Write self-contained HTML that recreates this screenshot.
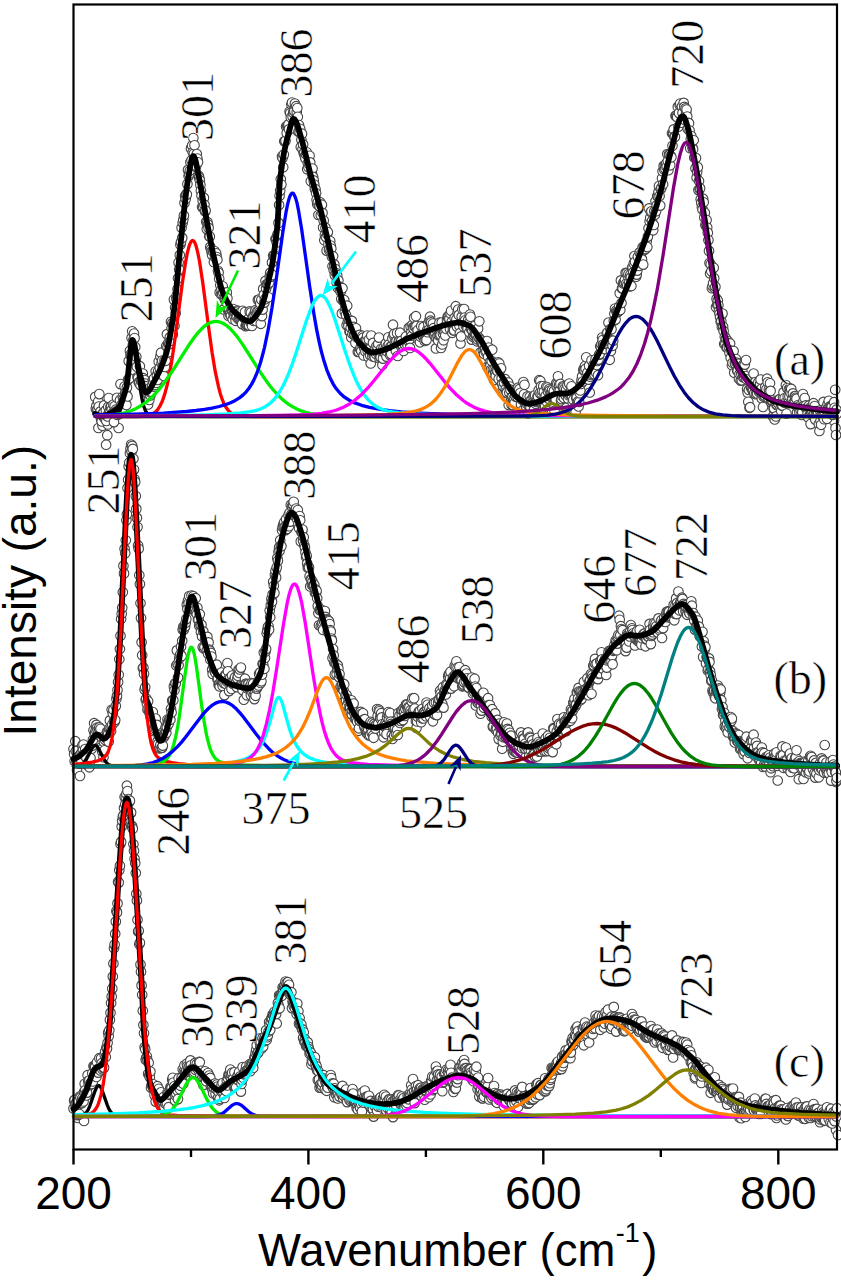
<!DOCTYPE html>
<html><head><meta charset="utf-8"><style>
html,body{margin:0;padding:0;background:#fff;overflow:hidden}
svg{display:block}
.d{fill:none;stroke:none;marker-start:url(#m);marker-mid:url(#m);marker-end:url(#m)}
</style></head><body>
<svg width="841" height="1280" viewBox="0 0 841 1280">
<defs><marker id="m" markerUnits="userSpaceOnUse" markerWidth="14" markerHeight="14" refX="7" refY="7" overflow="visible"><circle cx="7" cy="7" r="4.8" fill="#fff" stroke="#454545" stroke-width="1.1"/></marker></defs>
<rect width="841" height="1280" fill="#fff"/>
<polyline class="d" points="98.4,428.0 102.5,425.7 107.9,424.5 107.3,435.2 106.1,444.7 118.6,428.0 834.0,421.0 835.5,428.0 836.0,435.0 95.2,396.9 95.8,408.6 96.4,405.8 97.0,410.4 97.6,409.2 98.2,401.6 98.8,406.6 99.3,394.1 99.9,415.0 100.5,411.4 101.1,419.5 101.7,421.4 102.3,414.2 102.9,416.2 103.5,412.5 104.0,405.4 104.6,417.8 105.2,419.1 105.8,410.4 106.4,420.9 107.0,415.7 107.6,416.5 108.2,406.7 108.7,398.1 109.3,412.5 109.9,410.7 110.5,406.7 111.1,406.5 111.7,410.1 112.3,413.5 112.8,413.2 113.4,404.6 114.0,422.1 114.6,406.3 115.2,411.7 115.8,409.7 116.4,411.4 117.0,397.8 117.5,414.9 118.1,410.9 118.7,411.3 119.3,414.0 119.9,400.2 120.5,384.1 121.1,405.2 121.7,410.5 122.2,408.5 122.8,396.8 123.4,398.9 124.0,400.8 124.6,386.6 125.2,393.1 125.8,392.3 126.4,404.9 126.9,387.4 127.5,396.4 128.1,379.6 128.7,361.1 129.3,378.4 129.9,350.7 130.5,354.5 131.1,356.2 131.6,337.9 132.2,331.3 132.8,345.3 133.4,339.7 134.0,333.5 134.6,338.0 135.2,347.0 135.8,360.5 136.3,356.8 136.9,366.7 137.5,377.0 138.1,378.1 138.7,382.2 139.3,383.1 139.9,366.2 140.5,385.1 141.0,380.6 141.6,379.2 142.2,374.8 142.8,373.5 143.4,378.2 144.0,386.4 144.6,380.1 145.2,383.5 145.7,386.2 146.3,395.9 146.9,391.3 147.5,393.7 148.1,404.4 148.7,394.5 149.3,400.0 149.8,388.1 150.4,395.4 151.0,392.7 151.6,391.8 152.2,386.0 152.8,380.1 153.4,382.1 154.0,378.6 154.5,386.6 155.1,385.0 155.7,371.3 156.3,382.9 156.9,375.4 157.5,380.0 158.1,371.3 158.7,361.6 159.2,374.2 159.8,368.1 160.4,356.4 161.0,352.7 161.6,363.0 162.2,360.5 162.8,366.7 163.4,372.5 163.9,375.9 164.5,360.6 165.1,367.0 165.7,360.8 166.3,346.0 166.9,334.2 167.5,347.3 168.1,343.3 168.6,352.2 169.2,344.0 169.8,337.4 170.4,341.0 171.0,321.8 171.6,328.1 172.2,323.4 172.8,334.4 173.3,324.7 173.9,299.6 174.5,325.7 175.1,307.5 175.7,313.2 176.3,298.4 176.9,295.1 177.5,289.3 178.0,278.2 178.6,262.6 179.2,269.5 179.8,255.0 180.4,244.7 181.0,242.1 181.6,227.8 182.2,237.9 182.7,222.8 183.3,219.7 183.9,215.5 184.5,202.9 185.1,196.0 185.7,199.0 186.3,194.0 186.8,194.6 187.4,184.1 188.0,169.9 188.6,176.1 189.2,173.9 189.8,170.8 190.4,162.3 191.0,148.4 191.5,160.2 192.1,145.5 192.7,152.3 193.3,138.1 193.9,153.6 194.5,145.3 195.1,159.3 195.7,166.7 196.2,165.9 196.8,154.0 197.4,158.6 198.0,162.3 198.6,175.7 199.2,177.5 199.8,180.2 200.4,184.9 200.9,190.8 201.5,195.7 202.1,207.1 202.7,200.9 203.3,207.1 203.9,197.9 204.5,204.7 205.1,211.4 205.6,210.6 206.2,221.7 206.8,229.1 207.4,222.0 208.0,224.5 208.6,227.9 209.2,236.3 209.8,236.5 210.3,246.9 210.9,249.2 211.5,251.5 212.1,255.1 212.7,250.9 213.3,251.8 213.9,262.2 214.5,251.0 215.0,257.3 215.6,254.2 216.2,253.3 216.8,257.1 217.4,259.7 218.0,270.8 218.6,272.8 219.2,278.8 219.7,292.4 220.3,285.3 220.9,294.2 221.5,289.3 222.1,294.3 222.7,286.3 223.3,292.6 223.8,309.4 224.4,298.2 225.0,299.9 225.6,296.1 226.2,302.2 226.8,292.4 227.4,298.2 228.0,310.2 228.5,315.7 229.1,310.3 229.7,313.5 230.3,313.7 230.9,315.8 231.5,310.3 232.1,309.8 232.7,319.2 233.2,309.1 233.8,314.2 234.4,315.9 235.0,313.0 235.6,320.8 236.2,315.7 236.8,317.3 237.4,310.5 237.9,311.4 238.5,319.2 239.1,318.1 239.7,312.8 240.3,318.1 240.9,316.7 241.5,315.7 242.1,324.1 242.6,310.8 243.2,316.4 243.8,317.8 244.4,315.7 245.0,312.1 245.6,326.1 246.2,324.9 246.8,324.6 247.3,325.0 247.9,325.1 248.5,318.8 249.1,325.6 249.7,311.4 250.3,322.1 250.9,312.5 251.5,319.6 252.0,326.0 252.6,318.8 253.2,316.1 253.8,320.9 254.4,314.2 255.0,311.7 255.6,310.2 256.2,321.0 256.7,314.0 257.3,311.4 257.9,299.9 258.5,311.1 259.1,299.5 259.7,312.1 260.3,303.5 260.8,323.8 261.4,299.8 262.0,316.1 262.6,309.6 263.2,288.9 263.8,294.7 264.4,302.6 265.0,299.3 265.5,280.9 266.1,288.4 266.7,284.1 267.3,284.0 267.9,284.4 268.5,297.3 269.1,282.7 269.7,276.6 270.2,272.9 270.8,276.8 271.4,274.8 272.0,262.4 272.6,275.1 273.2,255.6 273.8,256.2 274.4,255.3 274.9,257.4 275.5,239.0 276.1,239.0 276.7,242.5 277.3,235.4 277.9,233.8 278.5,222.9 279.1,205.0 279.6,195.7 280.2,190.6 280.8,179.2 281.4,184.6 282.0,156.6 282.6,158.1 283.2,167.3 283.8,154.6 284.3,141.3 284.9,141.5 285.5,140.8 286.1,126.5 286.7,133.0 287.3,126.2 287.9,125.6 288.5,124.4 289.0,129.3 289.6,111.6 290.2,113.1 290.8,117.5 291.4,104.5 292.0,102.6 292.6,116.8 293.2,112.7 293.7,110.5 294.3,111.1 294.9,103.5 295.5,129.2 296.1,106.2 296.7,112.1 297.3,108.1 297.8,116.8 298.4,131.7 299.0,125.0 299.6,132.0 300.2,128.8 300.8,147.0 301.4,139.7 302.0,133.7 302.5,149.3 303.1,144.4 303.7,153.2 304.3,152.8 304.9,156.4 305.5,158.4 306.1,154.2 306.7,152.3 307.2,169.3 307.8,163.3 308.4,167.3 309.0,164.2 309.6,155.8 310.2,162.4 310.8,181.2 311.4,169.1 311.9,173.6 312.5,168.6 313.1,176.9 313.7,180.4 314.3,184.5 314.9,189.1 315.5,189.3 316.1,193.3 316.6,199.8 317.2,204.2 317.8,202.3 318.4,215.0 319.0,205.7 319.6,206.3 320.2,202.3 320.8,215.2 321.3,205.0 321.9,204.7 322.5,212.9 323.1,227.5 323.7,220.6 324.3,240.2 324.9,235.1 325.5,227.7 326.0,237.1 326.6,250.6 327.2,234.2 327.8,232.0 328.4,244.3 329.0,250.0 329.6,248.8 330.2,241.1 330.7,245.6 331.3,248.5 331.9,256.8 332.5,266.3 333.1,256.2 333.7,269.9 334.3,264.4 334.8,275.1 335.4,269.1 336.0,273.1 336.6,282.5 337.2,275.2 337.8,287.9 338.4,280.4 339.0,286.3 339.5,287.4 340.1,287.5 340.7,291.7 341.3,299.0 341.9,313.4 342.5,288.2 343.1,300.6 343.7,300.9 344.2,300.1 344.8,311.7 345.4,307.5 346.0,315.1 346.6,325.2 347.2,305.7 347.8,322.2 348.4,325.9 348.9,319.6 349.5,331.5 350.1,331.8 350.7,327.7 351.3,337.4 351.9,320.9 352.5,333.9 353.1,329.9 353.6,326.9 354.2,334.7 354.8,334.9 355.4,342.9 356.0,328.3 356.6,337.3 357.2,337.0 357.8,351.9 358.3,336.3 358.9,351.7 359.5,334.9 360.1,349.3 360.7,347.2 361.3,351.1 361.9,344.1 362.5,335.8 363.0,337.7 363.6,355.4 364.2,348.1 364.8,340.7 365.4,351.5 366.0,340.0 366.6,339.2 367.2,335.5 367.7,351.0 368.3,356.9 368.9,339.5 369.5,349.3 370.1,355.1 370.7,363.5 371.3,335.5 371.8,352.5 372.4,356.3 373.0,342.9 373.6,355.1 374.2,353.6 374.8,356.9 375.4,348.2 376.0,353.9 376.5,346.1 377.1,352.0 377.7,347.8 378.3,343.8 378.9,337.6 379.5,358.5 380.1,356.8 380.7,357.2 381.2,348.8 381.8,351.8 382.4,365.0 383.0,358.6 383.6,347.7 384.2,352.5 384.8,352.3 385.4,349.1 385.9,343.5 386.5,356.6 387.1,351.5 387.7,346.0 388.3,337.3 388.9,344.4 389.5,349.1 390.1,355.1 390.6,346.6 391.2,354.1 391.8,345.7 392.4,338.4 393.0,324.7 393.6,335.3 394.2,333.8 394.8,342.5 395.3,345.1 395.9,350.8 396.5,340.9 397.1,333.1 397.7,356.0 398.3,343.8 398.9,340.8 399.5,340.7 400.0,332.7 400.6,343.9 401.2,340.9 401.8,348.3 402.4,346.0 403.0,346.4 403.6,350.9 404.1,342.7 404.7,342.6 405.3,344.9 405.9,336.5 406.5,342.7 407.1,340.7 407.7,346.1 408.3,340.8 408.8,327.9 409.4,339.6 410.0,347.9 410.6,326.6 411.2,332.5 411.8,335.7 412.4,324.8 413.0,327.2 413.5,328.6 414.1,317.7 414.7,326.5 415.3,326.6 415.9,316.2 416.5,326.0 417.1,335.3 417.7,330.2 418.2,337.0 418.8,340.3 419.4,335.4 420.0,342.3 420.6,336.7 421.2,326.0 421.8,334.1 422.4,335.7 422.9,335.6 423.5,326.9 424.1,334.7 424.7,340.9 425.3,334.0 425.9,339.9 426.5,340.1 427.1,330.0 427.6,332.2 428.2,323.4 428.8,329.7 429.4,320.5 430.0,316.7 430.6,320.7 431.2,322.4 431.8,328.2 432.3,332.0 432.9,323.6 433.5,328.2 434.1,335.0 434.7,335.6 435.3,332.7 435.9,348.4 436.5,337.9 437.0,330.2 437.6,335.7 438.2,340.4 438.8,335.4 439.4,322.7 440.0,334.9 440.6,334.7 441.1,347.9 441.7,322.5 442.3,344.4 442.9,333.5 443.5,340.3 444.1,331.5 444.7,332.2 445.3,335.4 445.8,325.6 446.4,329.0 447.0,320.1 447.6,316.9 448.2,317.7 448.8,315.8 449.4,318.7 450.0,328.9 450.5,313.5 451.1,310.8 451.7,321.8 452.3,332.8 452.9,328.7 453.5,330.5 454.1,330.3 454.7,317.9 455.2,323.8 455.8,306.2 456.4,319.2 457.0,326.7 457.6,312.8 458.2,309.6 458.8,314.9 459.4,325.8 459.9,333.2 460.5,343.5 461.1,336.4 461.7,316.5 462.3,309.2 462.9,322.4 463.5,326.4 464.1,309.0 464.6,317.5 465.2,320.3 465.8,325.7 466.4,324.8 467.0,327.6 467.6,328.7 468.2,320.0 468.8,323.4 469.3,332.2 469.9,314.6 470.5,316.8 471.1,329.1 471.7,339.6 472.3,330.3 472.9,336.8 473.5,327.8 474.0,335.6 474.6,326.0 475.2,334.8 475.8,334.0 476.4,334.6 477.0,341.3 477.6,339.4 478.1,328.6 478.7,337.6 479.3,321.3 479.9,339.3 480.5,352.3 481.1,340.4 481.7,343.1 482.3,343.1 482.8,350.5 483.4,344.6 484.0,353.8 484.6,349.0 485.2,348.8 485.8,352.3 486.4,351.2 487.0,341.0 487.5,366.9 488.1,356.8 488.7,347.5 489.3,367.3 489.9,362.0 490.5,365.2 491.1,369.8 491.7,361.0 492.2,349.7 492.8,369.7 493.4,373.7 494.0,380.1 494.6,369.6 495.2,372.6 495.8,375.9 496.4,369.9 496.9,369.0 497.5,371.1 498.1,362.4 498.7,379.1 499.3,363.6 499.9,370.3 500.5,369.2 501.1,368.3 501.6,378.2 502.2,383.9 502.8,389.5 503.4,386.7 504.0,382.6 504.6,392.9 505.2,379.2 505.8,388.9 506.3,391.8 506.9,392.7 507.5,382.8 508.1,382.5 508.7,405.0 509.3,392.8 509.9,386.5 510.5,389.7 511.0,397.8 511.6,404.9 512.2,397.3 512.8,405.1 513.4,399.1 514.0,400.6 514.6,403.1 515.1,393.5 515.7,396.6 516.3,391.2 516.9,389.1 517.5,397.1 518.1,387.7 518.7,393.9 519.3,389.2 519.8,394.5 520.4,392.8 521.0,404.4 521.6,398.9 522.2,399.7 522.8,410.3 523.4,382.0 524.0,394.3 524.5,384.8 525.1,403.0 525.7,405.8 526.3,406.7 526.9,403.9 527.5,396.4 528.1,413.4 528.7,404.7 529.2,401.8 529.8,396.8 530.4,406.9 531.0,400.4 531.6,399.8 532.2,403.2 532.8,402.7 533.4,396.4 533.9,410.1 534.5,395.9 535.1,395.0 535.7,403.7 536.3,401.9 536.9,400.8 537.5,396.2 538.1,396.8 538.6,390.2 539.2,380.2 539.8,393.1 540.4,381.0 541.0,386.2 541.6,393.5 542.2,390.9 542.8,410.5 543.3,386.0 543.9,391.8 544.5,398.1 545.1,406.5 545.7,395.7 546.3,386.8 546.9,401.8 547.5,387.6 548.0,391.5 548.6,398.6 549.2,389.0 549.8,390.6 550.4,396.7 551.0,392.6 551.6,396.4 552.1,390.1 552.7,397.3 553.3,393.1 553.9,390.9 554.5,410.9 555.1,399.7 555.7,398.9 556.3,383.1 556.8,386.4 557.4,383.9 558.0,376.3 558.6,390.6 559.2,384.8 559.8,390.5 560.4,383.9 561.0,400.5 561.5,398.9 562.1,396.0 562.7,386.4 563.3,387.5 563.9,398.0 564.5,388.8 565.1,394.0 565.7,395.5 566.2,389.4 566.8,407.6 567.4,385.2 568.0,398.6 568.6,395.2 569.2,383.6 569.8,394.3 570.4,394.4 570.9,391.1 571.5,386.3 572.1,396.2 572.7,402.8 573.3,399.7 573.9,411.4 574.5,407.5 575.1,407.8 575.6,412.0 576.2,398.1 576.8,397.8 577.4,403.1 578.0,401.6 578.6,406.4 579.2,402.0 579.8,393.3 580.3,390.5 580.9,384.0 581.5,380.1 582.1,376.2 582.7,381.6 583.3,370.0 583.9,368.5 584.5,370.6 585.0,366.1 585.6,368.7 586.2,357.3 586.8,375.2 587.4,372.5 588.0,377.2 588.6,379.6 589.1,365.8 589.7,392.5 590.3,376.7 590.9,374.9 591.5,360.3 592.1,374.0 592.7,371.1 593.3,365.0 593.8,368.2 594.4,374.3 595.0,363.5 595.6,359.3 596.2,372.8 596.8,364.9 597.4,360.9 598.0,375.2 598.5,359.6 599.1,354.7 599.7,354.1 600.3,346.3 600.9,347.1 601.5,344.2 602.1,337.6 602.7,340.1 603.2,344.6 603.8,346.1 604.4,348.3 605.0,349.1 605.6,343.8 606.2,342.5 606.8,333.6 607.4,332.5 607.9,340.6 608.5,322.6 609.1,339.8 609.7,359.8 610.3,329.0 610.9,350.9 611.5,329.3 612.1,340.8 612.6,345.8 613.2,340.7 613.8,320.7 614.4,313.7 615.0,308.6 615.6,319.6 616.2,310.6 616.8,311.9 617.3,312.2 617.9,312.0 618.5,311.1 619.1,306.5 619.7,293.2 620.3,310.0 620.9,280.4 621.5,303.0 622.0,288.4 622.6,288.2 623.2,283.4 623.8,282.3 624.4,282.9 625.0,279.8 625.6,272.9 626.1,283.7 626.7,273.3 627.3,285.3 627.9,276.3 628.5,274.1 629.1,282.8 629.7,286.4 630.3,274.7 630.8,277.4 631.4,286.0 632.0,268.0 632.6,267.0 633.2,272.4 633.8,263.4 634.4,256.0 635.0,261.8 635.5,275.3 636.1,276.7 636.7,274.6 637.3,270.6 637.9,256.7 638.5,265.5 639.1,265.9 639.7,252.4 640.2,262.4 640.8,254.3 641.4,258.4 642.0,259.6 642.6,247.2 643.2,264.6 643.8,247.5 644.4,250.0 644.9,245.1 645.5,249.0 646.1,246.3 646.7,241.1 647.3,247.1 647.9,236.6 648.5,228.2 649.1,208.4 649.6,221.2 650.2,217.8 650.8,212.0 651.4,211.3 652.0,220.9 652.6,224.5 653.2,230.3 653.8,225.0 654.3,211.3 654.9,214.8 655.5,201.2 656.1,211.3 656.7,205.4 657.3,196.1 657.9,196.1 658.5,191.7 659.0,186.1 659.6,196.0 660.2,205.6 660.8,189.0 661.4,187.7 662.0,178.3 662.6,171.2 663.1,184.3 663.7,165.9 664.3,169.7 664.9,165.6 665.5,169.1 666.1,163.8 666.7,166.7 667.3,154.0 667.8,161.0 668.4,170.2 669.0,154.2 669.6,154.9 670.2,165.3 670.8,156.1 671.4,157.3 672.0,133.3 672.5,145.8 673.1,133.9 673.7,129.4 674.3,136.6 674.9,136.9 675.5,115.8 676.1,115.6 676.7,116.6 677.2,117.3 677.8,106.9 678.4,126.7 679.0,113.1 679.6,105.0 680.2,103.6 680.8,122.1 681.4,122.7 681.9,106.5 682.5,112.9 683.1,118.9 683.7,102.9 684.3,106.9 684.9,119.9 685.5,108.4 686.1,112.6 686.6,109.6 687.2,116.5 687.8,128.9 688.4,122.9 689.0,123.3 689.6,130.6 690.2,148.2 690.8,139.3 691.3,136.0 691.9,142.9 692.5,147.8 693.1,149.2 693.7,140.3 694.3,157.5 694.9,157.9 695.5,168.4 696.0,158.1 696.6,177.5 697.2,171.5 697.8,167.2 698.4,190.1 699.0,181.0 699.6,189.2 700.1,188.2 700.7,199.2 701.3,202.9 701.9,207.3 702.5,209.4 703.1,198.7 703.7,202.3 704.3,217.4 704.8,212.7 705.4,224.7 706.0,226.0 706.6,220.1 707.2,227.6 707.8,232.7 708.4,240.1 709.0,250.9 709.5,263.0 710.1,273.5 710.7,264.2 711.3,271.2 711.9,288.2 712.5,286.2 713.1,283.2 713.7,267.7 714.2,278.2 714.8,288.3 715.4,286.7 716.0,307.2 716.6,298.9 717.2,304.7 717.8,300.5 718.4,305.3 718.9,311.3 719.5,313.8 720.1,317.3 720.7,321.7 721.3,321.1 721.9,326.9 722.5,313.6 723.1,326.7 723.6,330.9 724.2,344.0 724.8,336.7 725.4,343.7 726.0,338.5 726.6,347.4 727.2,347.4 727.8,341.0 728.3,342.9 728.9,347.1 729.5,352.9 730.1,343.5 730.7,357.8 731.3,350.6 731.9,365.3 732.5,362.7 733.0,351.3 733.6,351.1 734.2,372.7 734.8,362.6 735.4,363.9 736.0,359.1 736.6,362.5 737.1,370.4 737.7,371.0 738.3,363.7 738.9,378.8 739.5,374.0 740.1,367.0 740.7,380.6 741.3,373.8 741.8,380.2 742.4,371.4 743.0,377.1 743.6,364.2 744.2,377.1 744.8,364.6 745.4,376.0 746.0,360.1 746.5,379.3 747.1,389.1 747.7,392.7 748.3,401.8 748.9,390.0 749.5,407.8 750.1,407.2 750.7,387.0 751.2,387.5 751.8,387.4 752.4,390.1 753.0,391.0 753.6,373.6 754.2,393.2 754.8,387.3 755.4,382.1 755.9,394.2 756.5,385.0 757.1,393.6 757.7,388.6 758.3,382.2 758.9,391.8 759.5,390.6 760.1,384.1 760.6,379.6 761.2,389.0 761.8,398.4 762.4,394.1 763.0,407.0 763.6,396.6 764.2,395.2 764.8,395.7 765.3,387.1 765.9,392.3 766.5,389.3 767.1,378.7 767.7,382.3 768.3,398.0 768.9,389.6 769.5,391.5 770.0,383.3 770.6,390.9 771.2,402.4 771.8,401.1 772.4,400.4 773.0,416.4 773.6,408.5 774.1,408.5 774.7,419.4 775.3,401.6 775.9,416.4 776.5,404.9 777.1,404.8 777.7,402.2 778.3,403.4 778.8,399.9 779.4,399.5 780.0,398.9 780.6,407.9 781.2,411.0 781.8,405.4 782.4,405.6 783.0,397.8 783.5,392.4 784.1,402.4 784.7,398.1 785.3,402.8 785.9,385.1 786.5,413.6 787.1,388.1 787.7,396.6 788.2,403.3 788.8,389.4 789.4,396.4 790.0,388.4 790.6,392.8 791.2,388.9 791.8,400.1 792.4,399.2 792.9,393.4 793.5,402.9 794.1,404.0 794.7,396.0 795.3,396.3 795.9,397.8 796.5,398.7 797.1,412.2 797.6,407.3 798.2,405.1 798.8,406.7 799.4,412.1 800.0,406.0 800.6,410.3 801.2,407.3 801.8,415.0 802.3,412.3 802.9,394.1 803.5,400.8 804.1,405.5 804.7,398.0 805.3,406.9 805.9,405.4 806.5,409.3 807.0,408.1 807.6,413.4 808.2,417.4 808.8,405.7 809.4,409.4 810.0,407.9 810.6,424.1 811.1,413.9 811.7,413.0 812.3,410.5 812.9,405.1 813.5,403.2 814.1,413.4 814.7,406.1 815.3,419.6 815.8,412.0 816.4,412.4 817.0,411.1 817.6,412.3 818.2,413.5 818.8,424.1 819.4,431.0 820.0,410.5 820.5,421.1 821.1,424.8 821.7,414.8 822.3,416.1 822.9,416.2 823.5,401.9 824.1,419.2 824.7,412.1 825.2,409.3 825.8,408.2 826.4,407.2 827.0,418.8 827.6,404.2 828.2,408.3 828.8,400.8 829.4,408.3 829.9,406.4 830.5,409.6 831.1,406.2 831.7,407.1 832.3,414.7 832.9,414.8 833.5,411.1 834.1,402.2 834.6,407.8 835.2,389.8 835.8,413.9 836.4,409.7 837.0,413.8"/>
<g fill="none" stroke-linejoin="round" stroke-linecap="round">
<polyline points="95.2,413.9 97.9,415.2 100.8,415.9 103.7,415.8 107.0,415.0 111.7,412.7 117.5,408.8 118.7,407.5 120.2,405.1 121.7,401.8 123.1,397.8 125.2,391.3 126.7,386.0 127.8,377.2 130.8,347.6 131.6,341.9 132.2,340.1 132.5,340.0 132.8,340.2 133.4,341.3 134.6,345.6 138.4,367.7 139.6,373.4 143.7,388.1 144.9,391.1 145.7,392.3 146.6,392.4 148.1,391.6 149.6,389.8 151.0,387.5 158.4,373.5 161.3,367.0 163.9,360.3 166.3,353.4 168.6,343.5 171.0,330.8 173.6,313.7 175.4,298.9 179.5,254.8 183.9,211.7 186.0,193.5 187.4,182.9 190.4,164.9 191.8,158.5 192.4,157.0 193.0,156.1 193.6,156.1 194.5,157.5 195.4,160.0 196.5,164.7 201.2,189.1 207.4,224.5 213.0,253.3 219.7,282.4 221.8,289.7 223.6,294.5 226.2,299.8 228.5,304.1 230.9,307.7 233.0,310.4 235.0,312.5 240.3,317.0 243.2,319.1 245.9,320.5 247.9,321.1 249.4,321.3 250.6,321.1 252.0,320.2 253.5,318.9 255.3,316.8 260.0,310.0 260.8,308.5 262.0,305.7 264.7,297.0 270.5,272.7 272.6,262.3 275.2,244.5 277.6,224.1 279.6,184.3 280.2,178.1 282.0,164.8 284.0,152.5 286.4,141.6 291.4,122.5 292.6,119.6 293.4,118.8 294.3,119.2 295.2,120.3 296.1,121.9 297.3,124.8 299.3,131.2 303.4,145.9 310.2,173.2 317.8,199.5 320.5,209.3 324.0,223.9 337.8,283.8 341.9,299.5 345.7,312.8 347.8,319.1 349.5,323.9 352.8,331.4 355.4,336.9 357.2,340.1 358.9,342.6 363.6,347.4 367.4,350.7 369.2,351.8 370.7,352.3 371.8,352.5 373.3,352.4 378.9,351.4 384.5,349.7 390.6,347.2 395.0,345.1 406.2,339.2 412.1,336.6 420.9,333.2 437.0,327.5 444.7,325.1 452.3,323.3 457.6,322.5 461.4,322.9 464.9,323.9 469.3,325.6 471.7,327.5 474.0,330.2 481.7,341.5 493.4,362.8 499.9,373.3 510.7,390.0 513.4,393.6 515.4,395.9 519.6,399.4 522.8,401.7 525.1,402.9 527.5,403.6 529.5,403.7 532.8,403.2 537.2,402.0 542.5,400.0 551.6,395.3 554.8,394.0 558.3,393.5 564.5,393.5 566.8,393.3 569.2,392.8 571.2,391.9 573.9,390.3 576.8,387.9 580.6,384.3 582.7,381.8 586.8,375.3 596.8,357.2 602.4,346.0 607.9,333.8 620.3,303.0 630.6,278.6 636.4,263.5 643.5,244.5 648.8,229.7 652.9,217.4 657.0,204.1 661.1,189.6 667.6,163.9 673.4,141.7 677.0,127.1 678.7,122.0 680.2,118.8 681.6,116.7 682.2,116.4 682.8,116.2 683.4,116.5 684.0,117.1 685.5,120.0 686.9,124.5 688.7,130.9 689.9,136.0 696.0,167.4 705.1,222.0 708.1,243.6 713.4,277.3 716.6,295.5 722.8,326.7 725.1,336.9 727.5,345.0 731.3,354.5 735.4,363.2 738.0,367.9 740.7,371.9 748.3,382.0 753.0,387.4 755.9,390.0 762.4,394.6 767.4,397.8 771.8,400.2 774.7,401.5 777.7,402.4 787.1,404.6 796.2,406.4 822.0,410.2 837.0,411.7" stroke="#000" stroke-width="5.8"/>
<polyline points="95.2,416.3 108.7,416.0 114.3,415.5 116.1,415.0 117.5,414.2 118.7,413.0 119.9,411.2 121.7,406.9 123.4,400.0 125.5,388.1 129.0,362.6 130.2,355.3 131.6,349.1 132.2,347.9 132.8,347.5 133.4,347.9 134.0,349.1 135.5,355.3 140.7,391.9 142.2,400.0 143.7,406.0 145.4,410.7 147.2,413.3 148.4,414.4 149.6,415.0 151.0,415.5 153.1,415.8 158.7,416.1 169.8,416.3 214.7,416.5 837.0,416.5" stroke="#000000" stroke-width="3.3"/>
<polyline points="95.2,416.5 136.9,416.5 142.8,416.3 146.9,415.8 151.0,414.7 152.8,413.9 154.5,412.7 156.0,411.5 157.5,409.9 160.1,405.8 162.5,400.7 164.8,393.9 167.2,384.9 169.2,375.3 171.6,362.1 173.9,346.8 182.4,282.7 185.7,261.6 187.4,252.6 189.2,245.8 190.1,243.5 191.0,241.8 191.8,240.8 192.7,240.5 193.3,240.7 194.2,241.7 195.1,243.3 196.0,245.7 197.7,252.3 199.5,261.3 202.7,282.3 209.2,331.6 212.1,352.4 215.3,371.9 218.6,387.1 220.3,393.7 222.1,399.0 223.8,403.4 225.9,407.3 228.0,410.1 230.3,412.5 233.0,414.2 235.9,415.3 238.8,415.9 242.3,416.3 254.7,416.5 837.0,416.5" stroke="#ff0000" stroke-width="3.3"/>
<polyline points="95.2,416.2 104.6,415.7 112.6,415.0 119.3,414.0 125.5,412.5 131.1,410.7 136.3,408.4 141.3,405.5 146.3,402.0 150.7,398.3 155.1,393.9 159.5,388.9 163.9,383.2 171.9,371.8 189.8,343.7 194.2,337.5 198.3,332.3 203.0,327.5 205.3,325.6 207.4,324.2 209.8,322.9 211.8,322.1 213.9,321.7 215.9,321.5 218.0,321.6 220.3,322.2 222.4,323.0 224.7,324.3 227.1,325.9 229.4,327.9 234.1,332.9 238.2,338.1 242.6,344.4 259.1,370.3 266.4,381.1 270.2,386.2 273.8,390.5 277.6,394.7 281.1,398.2 284.9,401.5 288.7,404.3 292.9,406.9 297.0,409.0 301.4,410.9 305.8,412.3 310.8,413.6 316.1,414.5 323.7,415.4 332.5,416.0 343.7,416.3 359.2,416.5 837.0,416.5" stroke="#00ee00" stroke-width="3.3"/>
<polyline points="95.2,415.0 134.0,414.2 163.7,413.1 186.6,411.5 196.0,410.5 204.5,409.4 212.1,408.1 219.2,406.5 225.3,404.7 230.6,402.7 235.3,400.4 239.4,397.9 242.9,395.1 246.2,391.8 248.8,388.5 251.5,384.4 253.8,380.1 256.2,374.8 258.2,369.5 260.3,363.2 262.3,356.0 264.4,347.8 268.2,329.7 272.0,307.8 275.5,284.4 282.9,231.8 286.1,211.7 287.9,203.2 289.3,197.9 290.2,195.6 291.1,194.0 292.0,193.2 292.6,193.1 293.2,193.3 294.0,194.4 295.5,197.7 297.0,202.9 298.7,211.4 301.7,229.4 309.6,286.0 314.0,314.6 316.6,329.4 319.0,341.1 321.3,351.3 324.0,361.1 326.9,370.1 329.9,377.4 333.1,383.8 336.3,388.8 340.1,393.3 344.2,397.0 349.2,400.2 354.8,402.9 361.6,405.3 369.5,407.4 378.9,409.1 389.5,410.6 401.5,411.8 415.6,412.8 432.0,413.6 451.7,414.3 500.5,415.2 570.6,415.8 674.6,416.1 837.0,416.3" stroke="#0000ff" stroke-width="3.3"/>
<polyline points="95.2,416.0 178.6,415.3 205.6,414.8 226.5,414.0 240.6,413.0 250.3,411.7 254.4,410.9 257.9,409.9 261.1,408.7 264.1,407.3 266.7,405.7 269.4,403.8 272.0,401.5 274.4,399.0 276.7,396.1 279.1,392.7 283.5,385.0 287.9,375.4 292.3,364.0 296.7,351.0 306.4,320.8 311.1,308.1 313.7,302.5 316.1,298.7 317.2,297.4 318.4,296.4 319.6,295.7 320.8,295.5 321.9,295.7 323.1,296.2 324.3,297.1 325.5,298.4 327.8,302.1 330.4,307.6 332.8,313.5 335.1,320.1 345.7,353.0 350.4,366.5 353.1,373.4 355.7,379.6 358.0,384.5 360.7,389.4 363.3,393.7 366.3,397.6 369.2,400.9 372.4,403.9 376.0,406.3 379.5,408.2 383.3,409.7 387.7,411.0 392.7,411.9 398.6,412.7 415.3,414.0 441.1,414.9 476.7,415.5 523.4,415.9 589.7,416.2 837.0,416.4" stroke="#00ffff" stroke-width="3.3"/>
<polyline points="95.2,416.3 215.6,416.0 282.6,415.3 299.6,414.9 311.7,414.3 321.3,413.3 329.3,412.0 336.6,410.0 343.4,407.3 349.5,404.0 355.7,399.6 361.9,394.2 368.0,387.7 373.9,380.7 387.4,363.7 391.2,359.3 394.5,356.0 398.3,352.7 401.8,350.4 405.3,349.0 408.8,348.5 412.4,349.0 415.9,350.4 419.4,352.7 423.2,356.0 426.5,359.3 430.0,363.3 444.1,381.1 450.3,388.3 456.7,395.0 463.2,400.5 466.4,402.8 469.9,405.0 473.5,406.9 477.0,408.5 480.8,409.9 484.6,411.1 493.4,412.9 503.1,414.0 515.7,414.8 533.4,415.3 560.7,415.7 654.6,416.2 837.0,416.4" stroke="#ff00ff" stroke-width="3.3"/>
<polyline points="95.2,416.4 257.3,416.1 339.0,415.5 365.7,415.0 385.9,414.3 400.6,413.3 411.2,411.9 415.3,411.0 418.8,410.1 422.1,408.9 425.0,407.6 427.9,405.9 430.6,404.0 433.2,401.8 435.6,399.5 440.3,393.7 445.0,386.6 449.4,378.7 457.9,362.1 461.7,355.6 463.8,352.9 465.8,350.9 467.6,349.9 469.3,349.5 471.1,349.9 472.9,350.9 474.9,352.9 477.0,355.6 480.8,362.1 489.3,378.7 493.7,386.6 498.4,393.7 502.8,399.1 505.2,401.5 507.8,403.8 510.5,405.7 513.4,407.4 516.3,408.8 519.6,410.0 523.1,411.0 527.2,411.8 537.5,413.2 552.1,414.2 572.1,415.0 598.3,415.5 678.4,416.1 837.0,416.4" stroke="#ff8000" stroke-width="3.3"/>
<polyline points="95.2,416.5 459.9,416.5 521.3,416.2 525.7,416.0 529.2,415.6 531.9,415.0 534.5,414.2 536.9,413.0 539.2,411.5 545.7,406.3 547.7,404.8 549.8,403.8 551.9,403.5 553.9,403.9 556.0,404.9 564.2,411.4 566.5,412.9 568.6,414.0 570.9,414.8 573.6,415.5 580.0,416.1 592.4,416.3 623.5,416.4 837.0,416.5" stroke="#808000" stroke-width="3.3"/>
<polyline points="95.2,416.5 391.2,416.4 507.8,416.2 527.5,416.0 539.2,415.7 548.0,415.1 555.4,414.1 559.8,413.1 563.9,411.8 567.7,410.2 571.2,408.4 574.8,406.0 578.0,403.4 581.2,400.3 584.5,396.7 587.4,392.9 590.3,388.6 596.5,378.3 602.1,367.5 615.3,340.1 618.8,333.4 622.0,328.1 625.9,322.8 629.4,319.2 631.1,318.0 632.9,317.1 634.7,316.6 636.1,316.5 637.6,316.7 639.4,317.2 641.1,318.1 642.9,319.4 646.4,323.1 650.2,328.4 653.5,333.9 657.0,340.5 669.3,366.1 674.3,376.0 679.3,384.8 684.3,392.4 688.7,398.0 693.4,402.8 698.1,406.6 703.4,409.8 709.0,412.1 715.4,413.8 722.8,414.9 731.6,415.6 741.8,416.0 757.1,416.1 837.0,416.4" stroke="#000080" stroke-width="3.3"/>
<polyline points="95.2,416.1 256.4,415.7 364.2,415.2 439.4,414.2 468.5,413.6 493.4,412.8 515.1,411.8 533.9,410.6 550.4,409.2 564.5,407.5 577.1,405.4 588.0,403.0 597.4,400.2 605.6,396.9 609.1,395.1 612.6,393.1 618.5,389.0 621.2,386.7 623.8,384.0 628.5,378.3 632.9,371.5 637.0,363.5 640.8,354.3 644.4,344.0 647.6,333.0 650.8,320.2 654.0,305.6 657.3,289.2 663.1,255.0 673.7,186.6 677.8,163.9 680.2,153.8 682.2,147.4 683.4,144.9 684.3,143.6 685.2,142.8 686.1,142.5 686.9,142.8 688.1,143.9 689.0,145.4 690.2,148.1 692.5,156.1 694.9,166.8 699.0,190.3 707.8,247.5 711.9,272.7 716.3,296.9 720.7,317.7 724.8,334.1 729.2,348.5 731.6,355.0 733.9,360.8 736.3,365.9 738.9,371.0 741.8,375.8 745.1,380.3 748.6,384.3 752.1,387.7 755.9,390.8 760.3,393.7 765.0,396.2 770.0,398.4 775.9,400.6 782.4,402.5 789.4,404.2 797.3,405.8 805.9,407.2 815.3,408.5 837.0,410.5" stroke="#800080" stroke-width="3.3"/>
</g>
<polyline class="d" points="77.0,770.0 80.0,776.0 835.0,776.0 836.0,782.0 73.5,749.1 74.1,754.3 74.7,761.1 75.3,741.2 75.8,751.3 76.4,760.9 77.0,760.3 77.6,757.9 78.2,756.7 78.8,760.6 79.4,763.4 80.0,754.8 80.5,754.9 81.1,759.7 81.7,752.3 82.3,745.6 82.9,750.1 83.5,744.5 84.1,753.6 84.7,755.6 85.2,749.0 85.8,753.4 86.4,757.7 87.0,764.4 87.6,764.9 88.2,762.3 88.8,762.9 89.4,767.3 89.9,761.6 90.5,758.0 91.1,746.2 91.7,748.7 92.3,745.7 92.9,739.9 93.5,730.3 94.1,723.2 94.6,733.7 95.2,732.7 95.8,729.9 96.4,724.9 97.0,727.7 97.6,730.2 98.2,734.6 98.8,731.5 99.3,727.4 99.9,730.3 100.5,728.8 101.1,747.3 101.7,737.5 102.3,751.7 102.9,748.0 103.5,757.2 104.0,742.0 104.6,750.3 105.2,739.9 105.8,738.0 106.4,736.7 107.0,731.8 107.6,732.3 108.2,733.9 108.7,741.7 109.3,728.5 109.9,720.4 110.5,729.2 111.1,731.3 111.7,709.8 112.3,724.6 112.8,713.6 113.4,709.7 114.0,720.7 114.6,722.0 115.2,720.1 115.8,706.1 116.4,698.8 117.0,695.8 117.5,690.1 118.1,682.1 118.7,674.8 119.3,659.2 119.9,649.0 120.5,635.7 121.1,619.0 121.7,613.7 122.2,607.7 122.8,592.3 123.4,565.7 124.0,573.4 124.6,548.9 125.2,553.3 125.8,540.3 126.4,520.3 126.9,514.2 127.5,488.0 128.1,479.7 128.7,466.4 129.3,462.6 129.9,453.2 130.5,448.6 131.1,444.5 131.6,451.4 132.2,445.9 132.8,448.9 133.4,458.8 134.0,469.6 134.6,479.2 135.2,482.1 135.8,496.1 136.3,508.9 136.9,517.9 137.5,527.1 138.1,545.6 138.7,548.8 139.3,575.3 139.9,584.1 140.5,603.3 141.0,618.1 141.6,642.2 142.2,655.3 142.8,668.2 143.4,667.5 144.0,673.9 144.6,689.6 145.2,687.3 145.7,699.5 146.3,698.5 146.9,703.8 147.5,709.5 148.1,701.3 148.7,710.3 149.3,711.7 149.8,713.5 150.4,716.4 151.0,712.8 151.6,715.8 152.2,716.2 152.8,712.1 153.4,730.9 154.0,728.9 154.5,730.0 155.1,723.8 155.7,718.5 156.3,729.8 156.9,724.9 157.5,741.5 158.1,744.1 158.7,735.4 159.2,748.5 159.8,747.7 160.4,744.9 161.0,737.2 161.6,747.9 162.2,747.6 162.8,745.6 163.4,735.9 163.9,737.2 164.5,735.4 165.1,733.0 165.7,727.0 166.3,732.9 166.9,727.1 167.5,719.6 168.1,722.2 168.6,724.0 169.2,719.9 169.8,718.8 170.4,719.7 171.0,708.7 171.6,712.5 172.2,700.5 172.8,700.1 173.3,700.3 173.9,686.4 174.5,690.3 175.1,683.3 175.7,683.6 176.3,665.5 176.9,650.4 177.5,664.0 178.0,677.6 178.6,665.3 179.2,658.8 179.8,656.3 180.4,654.3 181.0,646.8 181.6,656.0 182.2,640.7 182.7,629.8 183.3,626.9 183.9,629.6 184.5,626.3 185.1,626.6 185.7,622.8 186.3,619.1 186.8,604.6 187.4,608.9 188.0,600.5 188.6,603.2 189.2,596.0 189.8,608.3 190.4,608.6 191.0,602.7 191.5,595.6 192.1,606.5 192.7,603.4 193.3,596.2 193.9,608.6 194.5,611.1 195.1,610.0 195.7,598.2 196.2,611.8 196.8,614.2 197.4,607.8 198.0,619.6 198.6,619.9 199.2,625.6 199.8,614.2 200.4,625.0 200.9,632.3 201.5,624.9 202.1,636.4 202.7,647.2 203.3,631.4 203.9,648.5 204.5,647.1 205.1,638.9 205.6,641.1 206.2,642.3 206.8,650.2 207.4,636.9 208.0,653.6 208.6,642.4 209.2,649.5 209.8,650.7 210.3,659.5 210.9,652.9 211.5,656.6 212.1,669.6 212.7,673.9 213.3,666.2 213.9,665.8 214.5,670.6 215.0,671.5 215.6,673.0 216.2,669.7 216.8,664.7 217.4,679.2 218.0,678.2 218.6,684.8 219.2,684.2 219.7,686.4 220.3,674.3 220.9,681.6 221.5,672.5 222.1,682.7 222.7,686.0 223.3,680.4 223.8,683.1 224.4,695.1 225.0,675.2 225.6,683.7 226.2,674.9 226.8,681.5 227.4,663.1 228.0,671.3 228.5,678.7 229.1,691.1 229.7,682.8 230.3,678.1 230.9,682.7 231.5,688.9 232.1,675.6 232.7,683.6 233.2,681.7 233.8,680.2 234.4,684.2 235.0,677.2 235.6,683.4 236.2,682.5 236.8,687.1 237.4,678.6 237.9,675.7 238.5,669.7 239.1,672.9 239.7,669.5 240.3,685.4 240.9,667.6 241.5,684.8 242.1,687.3 242.6,690.1 243.2,685.1 243.8,699.7 244.4,685.7 245.0,678.7 245.6,683.8 246.2,683.9 246.8,695.3 247.3,688.5 247.9,684.0 248.5,684.1 249.1,688.4 249.7,686.6 250.3,688.8 250.9,695.3 251.5,683.2 252.0,687.8 252.6,693.0 253.2,683.6 253.8,695.0 254.4,699.1 255.0,692.3 255.6,695.8 256.2,688.4 256.7,688.4 257.3,686.9 257.9,681.8 258.5,685.4 259.1,673.9 259.7,679.9 260.3,672.4 260.8,683.0 261.4,681.3 262.0,674.7 262.6,663.8 263.2,664.5 263.8,652.5 264.4,668.8 265.0,658.0 265.5,651.4 266.1,649.1 266.7,633.2 267.3,630.4 267.9,627.1 268.5,626.3 269.1,629.8 269.7,610.6 270.2,617.2 270.8,605.4 271.4,598.9 272.0,601.7 272.6,594.4 273.2,581.8 273.8,585.7 274.4,593.1 274.9,574.7 275.5,570.7 276.1,577.4 276.7,567.6 277.3,558.0 277.9,560.8 278.5,551.8 279.1,547.3 279.6,550.7 280.2,540.2 280.8,545.5 281.4,546.2 282.0,530.3 282.6,527.2 283.2,524.7 283.8,527.1 284.3,522.1 284.9,526.6 285.5,530.1 286.1,519.0 286.7,525.0 287.3,528.8 287.9,525.7 288.5,515.1 289.0,526.2 289.6,512.8 290.2,521.6 290.8,504.9 291.4,514.3 292.0,507.0 292.6,505.3 293.2,504.4 293.7,501.8 294.3,511.2 294.9,511.5 295.5,516.8 296.1,508.6 296.7,517.4 297.3,519.4 297.8,510.1 298.4,523.9 299.0,528.2 299.6,516.1 300.2,520.3 300.8,541.4 301.4,532.2 302.0,531.7 302.5,529.5 303.1,540.8 303.7,537.3 304.3,545.0 304.9,547.5 305.5,552.5 306.1,557.3 306.7,555.9 307.2,563.5 307.8,567.7 308.4,566.5 309.0,567.5 309.6,576.3 310.2,586.5 310.8,579.3 311.4,579.7 311.9,585.0 312.5,581.5 313.1,585.2 313.7,585.6 314.3,584.8 314.9,592.7 315.5,589.4 316.1,593.1 316.6,590.8 317.2,598.2 317.8,606.1 318.4,613.3 319.0,625.3 319.6,609.9 320.2,610.2 320.8,625.8 321.3,609.8 321.9,624.5 322.5,622.4 323.1,630.0 323.7,619.9 324.3,621.5 324.9,611.1 325.5,616.9 326.0,620.6 326.6,619.0 327.2,620.2 327.8,632.2 328.4,620.6 329.0,621.3 329.6,624.1 330.2,630.2 330.7,631.6 331.3,638.5 331.9,640.4 332.5,658.1 333.1,649.0 333.7,655.4 334.3,662.5 334.8,674.6 335.4,663.5 336.0,663.6 336.6,674.2 337.2,668.9 337.8,665.4 338.4,668.5 339.0,677.1 339.5,674.1 340.1,689.0 340.7,686.4 341.3,693.9 341.9,686.2 342.5,683.4 343.1,689.6 343.7,690.7 344.2,684.2 344.8,700.7 345.4,695.1 346.0,700.5 346.6,695.0 347.2,705.1 347.8,713.4 348.4,702.2 348.9,699.5 349.5,707.2 350.1,708.4 350.7,712.1 351.3,700.3 351.9,714.4 352.5,710.4 353.1,707.8 353.6,703.6 354.2,712.5 354.8,718.8 355.4,716.9 356.0,718.6 356.6,718.5 357.2,721.8 357.8,714.4 358.3,730.8 358.9,728.3 359.5,720.4 360.1,720.9 360.7,711.9 361.3,713.8 361.9,720.4 362.5,714.5 363.0,713.3 363.6,719.5 364.2,726.5 364.8,719.2 365.4,729.1 366.0,731.1 366.6,732.7 367.2,733.4 367.7,731.6 368.3,729.5 368.9,735.5 369.5,724.1 370.1,735.3 370.7,721.8 371.3,728.7 371.8,732.7 372.4,722.7 373.0,735.5 373.6,737.8 374.2,723.9 374.8,726.0 375.4,728.5 376.0,725.5 376.5,724.6 377.1,709.1 377.7,716.1 378.3,723.8 378.9,709.7 379.5,711.3 380.1,717.9 380.7,718.9 381.2,713.2 381.8,717.4 382.4,724.1 383.0,727.1 383.6,737.3 384.2,731.9 384.8,726.6 385.4,723.2 385.9,725.4 386.5,734.1 387.1,717.2 387.7,713.9 388.3,712.1 388.9,719.4 389.5,714.8 390.1,713.0 390.6,721.7 391.2,723.9 391.8,734.9 392.4,738.9 393.0,727.7 393.6,727.3 394.2,735.4 394.8,729.6 395.3,727.5 395.9,733.7 396.5,723.0 397.1,729.8 397.7,735.0 398.3,713.0 398.9,721.1 399.5,715.6 400.0,723.0 400.6,720.9 401.2,711.0 401.8,714.7 402.4,710.6 403.0,720.1 403.6,708.4 404.1,711.4 404.7,716.0 405.3,708.4 405.9,704.9 406.5,704.4 407.1,704.7 407.7,708.5 408.3,707.0 408.8,710.6 409.4,707.2 410.0,713.5 410.6,710.3 411.2,713.0 411.8,701.6 412.4,698.4 413.0,712.8 413.5,709.6 414.1,698.2 414.7,708.6 415.3,716.0 415.9,721.3 416.5,727.9 417.1,721.5 417.7,716.8 418.2,713.2 418.8,711.5 419.4,712.9 420.0,710.9 420.6,716.8 421.2,722.2 421.8,718.3 422.4,708.8 422.9,716.6 423.5,718.4 424.1,711.9 424.7,711.9 425.3,713.7 425.9,716.2 426.5,702.6 427.1,707.9 427.6,704.8 428.2,711.7 428.8,714.0 429.4,708.2 430.0,716.5 430.6,711.5 431.2,711.8 431.8,711.1 432.3,705.2 432.9,721.3 433.5,713.2 434.1,702.8 434.7,714.0 435.3,714.7 435.9,702.2 436.5,708.6 437.0,715.1 437.6,707.4 438.2,702.4 438.8,699.4 439.4,699.6 440.0,690.7 440.6,693.5 441.1,697.7 441.7,696.4 442.3,704.0 442.9,687.2 443.5,707.6 444.1,692.8 444.7,690.2 445.3,691.2 445.8,694.4 446.4,684.2 447.0,688.9 447.6,684.6 448.2,676.4 448.8,674.2 449.4,674.8 450.0,678.6 450.5,671.7 451.1,688.6 451.7,682.6 452.3,683.5 452.9,677.9 453.5,676.6 454.1,686.3 454.7,665.9 455.2,674.9 455.8,667.3 456.4,661.3 457.0,674.4 457.6,667.6 458.2,678.4 458.8,675.0 459.4,667.1 459.9,678.9 460.5,673.9 461.1,679.8 461.7,680.6 462.3,686.3 462.9,685.9 463.5,684.6 464.1,682.1 464.6,675.8 465.2,670.2 465.8,681.2 466.4,673.5 467.0,678.3 467.6,685.8 468.2,687.5 468.8,687.6 469.3,683.4 469.9,684.1 470.5,683.7 471.1,683.7 471.7,677.5 472.3,687.7 472.9,693.5 473.5,690.0 474.0,692.0 474.6,678.7 475.2,686.6 475.8,705.4 476.4,688.1 477.0,697.7 477.6,702.7 478.1,703.1 478.7,700.9 479.3,701.7 479.9,696.7 480.5,713.7 481.1,705.3 481.7,710.6 482.3,695.5 482.8,693.1 483.4,692.8 484.0,707.8 484.6,702.4 485.2,702.8 485.8,705.8 486.4,704.6 487.0,704.6 487.5,699.8 488.1,698.2 488.7,705.1 489.3,711.4 489.9,705.1 490.5,711.0 491.1,710.7 491.7,716.8 492.2,709.2 492.8,726.6 493.4,726.6 494.0,718.9 494.6,719.6 495.2,713.4 495.8,729.6 496.4,727.2 496.9,728.7 497.5,719.9 498.1,732.8 498.7,739.1 499.3,723.5 499.9,727.8 500.5,735.5 501.1,733.0 501.6,734.0 502.2,748.7 502.8,741.8 503.4,737.2 504.0,722.3 504.6,736.2 505.2,728.3 505.8,726.3 506.3,737.6 506.9,723.6 507.5,728.9 508.1,739.1 508.7,730.0 509.3,733.8 509.9,732.8 510.5,739.2 511.0,735.7 511.6,747.8 512.2,744.7 512.8,752.1 513.4,753.8 514.0,750.4 514.6,751.4 515.1,748.0 515.7,751.7 516.3,752.5 516.9,748.7 517.5,752.6 518.1,745.3 518.7,743.4 519.3,745.8 519.8,734.5 520.4,740.6 521.0,732.4 521.6,744.7 522.2,748.2 522.8,735.8 523.4,738.5 524.0,738.8 524.5,748.1 525.1,743.7 525.7,749.0 526.3,746.1 526.9,746.9 527.5,733.4 528.1,732.4 528.7,750.5 529.2,756.0 529.8,736.8 530.4,737.9 531.0,750.8 531.6,756.6 532.2,740.4 532.8,744.4 533.4,754.8 533.9,753.0 534.5,753.9 535.1,756.5 535.7,744.7 536.3,744.6 536.9,756.4 537.5,737.8 538.1,750.3 538.6,742.1 539.2,751.7 539.8,743.8 540.4,743.6 541.0,751.6 541.6,745.9 542.2,746.4 542.8,733.6 543.3,749.6 543.9,745.2 544.5,751.3 545.1,742.8 545.7,738.2 546.3,751.2 546.9,743.4 547.5,741.8 548.0,735.7 548.6,751.0 549.2,748.5 549.8,737.8 550.4,747.2 551.0,745.6 551.6,748.7 552.1,741.2 552.7,752.1 553.3,728.2 553.9,728.9 554.5,740.0 555.1,739.5 555.7,735.0 556.3,744.2 556.8,731.4 557.4,719.0 558.0,735.7 558.6,726.8 559.2,723.7 559.8,728.9 560.4,728.9 561.0,724.4 561.5,732.5 562.1,731.6 562.7,729.3 563.3,729.3 563.9,717.3 564.5,722.1 565.1,720.7 565.7,721.5 566.2,731.2 566.8,723.0 567.4,721.2 568.0,716.8 568.6,721.5 569.2,718.3 569.8,716.9 570.4,720.8 570.9,709.5 571.5,711.9 572.1,718.2 572.7,710.6 573.3,702.7 573.9,702.3 574.5,698.7 575.1,707.0 575.6,704.2 576.2,704.6 576.8,692.2 577.4,693.2 578.0,698.5 578.6,687.9 579.2,691.3 579.8,700.4 580.3,692.3 580.9,691.6 581.5,699.1 582.1,694.5 582.7,691.2 583.3,693.7 583.9,681.8 584.5,693.8 585.0,689.5 585.6,689.7 586.2,688.7 586.8,691.4 587.4,678.2 588.0,687.9 588.6,695.2 589.1,682.6 589.7,680.6 590.3,680.1 590.9,674.0 591.5,693.8 592.1,675.2 592.7,677.9 593.3,665.8 593.8,665.4 594.4,662.8 595.0,658.9 595.6,664.2 596.2,673.4 596.8,663.4 597.4,673.2 598.0,679.1 598.5,670.5 599.1,673.9 599.7,673.3 600.3,661.2 600.9,660.3 601.5,652.3 602.1,659.3 602.7,668.6 603.2,664.3 603.8,662.3 604.4,661.2 605.0,659.3 605.6,661.1 606.2,675.0 606.8,667.6 607.4,660.4 607.9,655.7 608.5,651.7 609.1,659.8 609.7,650.5 610.3,650.7 610.9,651.3 611.5,661.2 612.1,655.6 612.6,664.3 613.2,650.8 613.8,649.4 614.4,645.0 615.0,650.0 615.6,640.5 616.2,641.7 616.8,650.2 617.3,643.6 617.9,636.8 618.5,634.8 619.1,615.7 619.7,619.8 620.3,635.0 620.9,626.2 621.5,629.0 622.0,640.2 622.6,630.2 623.2,640.1 623.8,639.2 624.4,642.7 625.0,641.7 625.6,651.1 626.1,644.4 626.7,647.6 627.3,633.3 627.9,634.7 628.5,635.5 629.1,641.5 629.7,636.5 630.3,630.8 630.8,625.1 631.4,633.6 632.0,628.3 632.6,630.0 633.2,633.3 633.8,635.4 634.4,634.9 635.0,645.4 635.5,638.7 636.1,633.7 636.7,639.7 637.3,630.7 637.9,640.9 638.5,641.3 639.1,640.5 639.7,629.8 640.2,640.5 640.8,639.5 641.4,644.8 642.0,638.2 642.6,635.5 643.2,635.0 643.8,633.8 644.4,633.7 644.9,636.2 645.5,646.3 646.1,639.3 646.7,639.1 647.3,634.4 647.9,636.4 648.5,636.5 649.1,634.3 649.6,623.9 650.2,629.8 650.8,644.1 651.4,635.9 652.0,634.6 652.6,632.2 653.2,626.5 653.8,623.1 654.3,629.6 654.9,630.0 655.5,623.6 656.1,626.5 656.7,629.7 657.3,629.2 657.9,632.6 658.5,618.4 659.0,627.9 659.6,630.2 660.2,628.4 660.8,621.5 661.4,620.2 662.0,638.0 662.6,624.8 663.1,628.1 663.7,621.1 664.3,617.6 664.9,621.7 665.5,621.9 666.1,614.6 666.7,611.9 667.3,617.2 667.8,611.3 668.4,611.9 669.0,611.7 669.6,617.4 670.2,616.2 670.8,615.5 671.4,613.6 672.0,614.6 672.5,618.3 673.1,609.9 673.7,604.9 674.3,620.3 674.9,613.6 675.5,605.3 676.1,598.4 676.7,614.1 677.2,602.9 677.8,606.2 678.4,591.6 679.0,609.0 679.6,610.4 680.2,602.5 680.8,601.8 681.4,603.1 681.9,597.7 682.5,598.9 683.1,611.2 683.7,603.9 684.3,605.5 684.9,605.4 685.5,611.3 686.1,607.9 686.6,612.8 687.2,614.8 687.8,608.5 688.4,610.3 689.0,612.2 689.6,613.4 690.2,609.3 690.8,608.9 691.3,601.3 691.9,605.7 692.5,613.0 693.1,613.0 693.7,617.5 694.3,620.6 694.9,629.6 695.5,616.7 696.0,626.3 696.6,625.6 697.2,624.0 697.8,620.5 698.4,626.8 699.0,626.7 699.6,636.1 700.1,633.9 700.7,636.4 701.3,633.1 701.9,646.5 702.5,631.8 703.1,657.1 703.7,641.3 704.3,645.6 704.8,649.2 705.4,647.0 706.0,663.4 706.6,657.0 707.2,658.3 707.8,670.4 708.4,669.1 709.0,658.4 709.5,661.9 710.1,671.4 710.7,675.1 711.3,680.9 711.9,680.2 712.5,690.6 713.1,692.5 713.7,691.2 714.2,690.8 714.8,697.3 715.4,698.3 716.0,691.4 716.6,688.3 717.2,691.8 717.8,685.6 718.4,691.6 718.9,695.8 719.5,688.4 720.1,692.9 720.7,689.6 721.3,700.2 721.9,709.0 722.5,707.1 723.1,714.9 723.6,714.9 724.2,712.8 724.8,726.4 725.4,720.5 726.0,728.3 726.6,726.2 727.2,723.7 727.8,732.5 728.3,720.3 728.9,717.7 729.5,727.1 730.1,722.1 730.7,717.1 731.3,720.9 731.9,718.5 732.5,730.9 733.0,736.5 733.6,735.5 734.2,738.3 734.8,742.5 735.4,737.4 736.0,733.3 736.6,734.4 737.1,740.9 737.7,741.3 738.3,741.8 738.9,735.0 739.5,741.0 740.1,749.0 740.7,742.3 741.3,749.0 741.8,745.3 742.4,742.9 743.0,751.1 743.6,754.1 744.2,748.8 744.8,751.6 745.4,742.4 746.0,739.3 746.5,736.7 747.1,748.3 747.7,758.3 748.3,749.4 748.9,745.7 749.5,752.9 750.1,750.9 750.7,748.2 751.2,740.4 751.8,751.6 752.4,738.9 753.0,740.9 753.6,734.7 754.2,747.6 754.8,755.4 755.4,753.2 755.9,742.5 756.5,754.1 757.1,745.9 757.7,752.1 758.3,752.8 758.9,759.8 759.5,758.9 760.1,754.4 760.6,755.0 761.2,763.1 761.8,747.5 762.4,752.4 763.0,766.9 763.6,757.4 764.2,753.2 764.8,763.0 765.3,766.6 765.9,757.2 766.5,761.3 767.1,757.9 767.7,763.6 768.3,760.2 768.9,755.3 769.5,763.8 770.0,757.5 770.6,772.2 771.2,768.3 771.8,759.9 772.4,762.1 773.0,766.2 773.6,762.4 774.1,753.9 774.7,756.9 775.3,757.7 775.9,759.5 776.5,752.3 777.1,765.8 777.7,780.5 778.3,763.4 778.8,763.1 779.4,760.3 780.0,763.2 780.6,755.8 781.2,756.8 781.8,761.1 782.4,746.4 783.0,755.3 783.5,767.8 784.1,763.6 784.7,760.6 785.3,761.9 785.9,747.6 786.5,764.9 787.1,759.7 787.7,768.6 788.2,764.4 788.8,766.4 789.4,754.7 790.0,753.5 790.6,772.0 791.2,759.3 791.8,758.1 792.4,767.8 792.9,763.2 793.5,763.0 794.1,768.2 794.7,760.1 795.3,757.6 795.9,757.6 796.5,750.3 797.1,763.1 797.6,764.5 798.2,762.7 798.8,779.2 799.4,761.0 800.0,763.7 800.6,762.9 801.2,763.4 801.8,769.6 802.3,763.4 802.9,768.6 803.5,778.9 804.1,763.1 804.7,761.5 805.3,762.3 805.9,772.5 806.5,768.2 807.0,767.7 807.6,763.1 808.2,761.1 808.8,773.5 809.4,771.4 810.0,756.8 810.6,755.8 811.1,757.3 811.7,757.0 812.3,765.0 812.9,769.1 813.5,762.8 814.1,760.4 814.7,772.8 815.3,777.6 815.8,762.9 816.4,773.5 817.0,767.1 817.6,766.8 818.2,766.1 818.8,777.3 819.4,770.2 820.0,763.3 820.5,766.0 821.1,768.4 821.7,758.4 822.3,769.8 822.9,760.4 823.5,760.8 824.1,772.6 824.7,745.0 825.2,768.0 825.8,768.6 826.4,762.5 827.0,772.8 827.6,770.1 828.2,767.6 828.8,773.3 829.4,767.2 829.9,766.4 830.5,761.6 831.1,780.6 831.7,771.9 832.3,765.6 832.9,760.0 833.5,764.6 834.1,766.9 834.6,766.5 835.2,772.2 835.8,772.2 836.4,780.8 837.0,777.8"/>
<g fill="none" stroke-linejoin="round" stroke-linecap="round">
<polyline points="73.5,758.9 74.7,758.7 75.8,758.3 78.5,756.8 81.4,754.5 85.5,750.6 87.9,747.3 93.2,737.9 94.6,735.9 95.8,734.9 97.0,734.5 98.2,734.8 99.3,735.6 102.0,737.9 103.5,738.7 104.6,738.7 105.8,737.9 107.0,736.5 108.2,734.6 111.7,727.2 112.3,725.6 113.1,721.7 114.3,714.0 115.5,704.3 117.0,690.6 117.5,683.1 120.5,633.0 125.8,519.0 127.5,486.0 128.7,469.2 129.6,460.5 130.5,455.9 130.8,455.1 131.1,454.8 131.3,455.1 131.9,456.8 132.8,462.8 133.7,472.4 134.6,485.2 136.3,517.9 141.9,636.1 143.7,666.4 145.7,695.3 146.0,697.5 146.6,699.8 148.7,704.6 149.6,707.5 154.5,727.4 156.3,733.6 158.4,738.9 159.2,740.2 160.1,740.9 161.0,740.9 162.2,740.1 163.1,738.9 164.2,736.6 166.9,729.3 169.2,720.3 171.0,711.2 172.8,700.7 185.1,620.9 188.9,603.4 190.4,598.7 191.0,597.5 191.5,596.7 192.1,596.5 192.4,596.6 193.0,597.3 193.9,599.2 195.1,602.7 200.7,625.2 205.1,643.8 207.4,652.2 210.3,660.8 212.7,667.0 214.7,671.6 216.8,675.0 218.3,676.5 222.4,679.6 225.9,681.8 229.4,683.6 233.2,685.1 237.7,686.4 242.3,687.5 247.3,688.3 248.5,688.3 249.7,688.1 250.9,687.6 252.3,686.6 254.7,684.1 257.3,680.2 259.4,676.3 260.6,673.6 261.7,669.0 262.9,662.8 265.0,648.9 271.1,601.2 278.5,555.2 280.8,542.2 284.3,528.6 287.3,519.3 288.5,516.5 289.6,514.4 290.8,513.1 291.4,512.8 292.0,512.7 293.2,513.3 294.3,514.7 295.5,516.6 296.7,519.1 299.3,526.3 302.8,537.7 305.5,548.1 314.6,588.5 317.8,601.3 334.3,659.4 339.0,674.7 342.8,686.3 349.8,705.0 351.9,709.8 353.6,713.2 356.0,716.5 360.1,721.4 362.7,723.8 365.4,725.5 368.6,726.5 373.6,727.4 376.5,727.6 379.2,727.2 385.4,725.6 393.6,722.4 396.5,721.0 403.6,717.0 407.4,715.4 409.1,715.0 411.2,714.9 418.8,715.5 422.1,715.4 426.2,714.3 430.3,712.4 434.7,709.4 436.2,708.2 437.3,706.8 439.7,702.6 445.3,689.6 447.6,685.0 452.3,677.3 454.4,674.4 456.4,672.6 457.3,672.3 458.2,672.3 459.1,672.6 460.2,673.4 462.6,675.9 469.6,686.8 491.7,717.9 501.3,730.8 504.0,734.0 506.0,736.1 510.2,739.4 514.6,742.4 518.1,744.1 522.2,745.5 526.0,746.6 529.0,746.8 531.9,746.5 535.4,745.4 544.8,741.2 551.0,737.6 556.3,733.6 558.6,731.2 561.3,728.0 568.6,718.0 573.6,710.2 581.2,697.3 591.8,678.3 601.2,662.7 604.4,657.9 609.7,650.7 612.9,646.7 615.6,643.9 622.9,637.9 625.3,636.4 627.6,635.3 630.3,634.9 636.4,635.9 640.2,635.6 643.2,635.0 646.1,634.0 649.1,632.9 652.0,631.4 654.0,629.9 656.4,627.8 664.6,618.6 674.9,608.3 677.2,606.3 679.6,604.7 681.1,604.1 682.2,604.0 683.4,604.3 684.6,604.9 687.2,607.3 692.2,613.8 693.7,616.5 695.5,621.3 699.3,633.5 709.0,668.7 712.5,680.7 717.2,695.3 723.1,712.5 728.3,725.0 732.5,733.1 734.2,735.9 736.9,739.4 742.4,746.0 746.8,750.0 752.1,754.0 755.4,756.0 758.6,757.4 768.0,759.9 784.4,762.3 797.1,763.7 820.5,765.2 837.0,765.7" stroke="#000" stroke-width="5.8"/>
<polyline points="73.5,766.3 77.0,766.0 79.7,765.5 81.7,764.6 83.5,763.2 85.0,761.5 86.7,758.8 92.3,748.0 93.8,746.1 94.6,745.6 95.2,745.5 95.8,745.6 96.7,746.1 98.2,748.0 103.7,758.8 105.5,761.5 107.0,763.2 109.0,764.7 111.1,765.6 113.7,766.1 117.3,766.3 183.3,766.5 837.0,766.5" stroke="#000000" stroke-width="3.3"/>
<polyline points="73.5,764.5 84.1,763.5 92.3,762.2 98.5,760.6 100.8,759.6 102.9,758.4 104.3,757.2 105.8,755.6 107.0,753.9 108.2,751.7 110.2,746.0 112.0,738.3 113.4,729.4 114.9,717.4 116.4,701.8 117.8,682.3 120.8,631.1 125.5,529.4 127.2,495.3 128.4,477.4 129.3,467.6 130.2,461.6 130.8,459.7 131.1,459.5 131.3,459.7 131.9,461.6 132.8,467.6 133.7,477.4 134.6,490.3 136.3,523.3 140.5,613.0 142.5,653.4 144.6,686.5 146.9,714.6 148.1,725.0 149.6,735.1 151.0,742.5 152.5,747.9 154.3,752.3 156.3,755.6 157.5,756.9 159.0,758.2 162.2,760.0 166.3,761.4 171.9,762.6 178.6,763.6 186.6,764.4 196.2,764.9 208.3,765.4 242.6,766.0 293.2,766.2 378.9,766.4 837.0,766.5" stroke="#ff0000" stroke-width="3.3"/>
<polyline points="73.5,766.2 120.8,765.7 135.5,765.3 146.3,764.6 154.5,763.7 160.1,762.6 162.2,761.9 163.9,761.0 165.4,760.1 166.9,758.8 169.2,755.8 171.6,751.0 173.6,745.0 175.7,736.9 177.5,727.9 179.5,715.3 185.4,672.1 187.1,660.5 188.3,654.3 189.2,650.8 190.4,647.8 191.3,647.1 191.5,647.1 192.1,647.7 193.0,649.5 193.9,652.5 195.1,658.1 197.1,671.2 201.5,704.3 203.9,720.3 206.5,734.9 209.2,745.6 210.6,750.0 212.1,753.4 213.9,756.5 215.6,758.7 217.4,760.2 219.7,761.6 222.4,762.6 225.9,763.4 230.3,764.0 236.2,764.6 251.5,765.4 273.5,765.9 307.0,766.2 436.5,766.4 837.0,766.5" stroke="#00ee00" stroke-width="3.3"/>
<polyline points="73.5,766.4 116.1,766.2 126.1,766.0 134.0,765.6 141.3,764.9 147.5,763.9 153.1,762.5 158.4,760.5 163.4,758.0 168.1,754.9 172.8,751.1 177.5,746.6 181.6,742.1 185.7,737.0 201.8,715.7 205.6,711.3 208.9,708.0 212.4,705.1 215.6,703.1 218.9,701.9 222.1,701.5 223.8,701.6 225.6,702.0 229.1,703.4 232.7,705.7 236.5,709.1 239.7,712.6 243.2,716.8 256.7,734.8 262.6,742.1 268.8,748.7 272.0,751.7 274.9,754.0 278.2,756.3 281.4,758.3 284.9,760.1 288.5,761.6 292.3,762.8 296.1,763.8 300.5,764.6 305.2,765.2 312.2,765.8 320.8,766.1 350.1,766.4 837.0,766.5" stroke="#0000ff" stroke-width="3.3"/>
<polyline points="73.5,766.3 156.3,765.9 181.6,765.5 200.4,765.0 215.0,764.2 226.5,763.2 235.3,761.8 242.6,759.9 245.6,758.8 248.5,757.4 251.2,755.9 253.5,754.1 255.6,752.3 257.6,750.1 259.7,747.4 261.4,744.6 264.4,738.7 267.3,730.8 269.7,723.1 274.1,706.6 275.5,702.0 276.4,699.8 277.3,698.3 278.2,697.4 278.8,697.3 279.6,697.7 280.5,698.9 282.3,703.2 288.5,725.5 290.2,731.2 292.0,736.1 295.2,743.2 297.0,746.3 299.0,749.2 301.7,752.1 304.3,754.5 307.5,756.7 311.1,758.4 315.2,760.0 319.6,761.2 324.6,762.2 330.4,763.1 343.7,764.3 361.3,765.1 385.6,765.7 420.3,766.0 540.4,766.4 837.0,766.5" stroke="#00ffff" stroke-width="3.3"/>
<polyline points="73.5,766.2 168.6,765.7 196.8,765.2 217.4,764.4 230.9,763.5 235.9,762.9 239.7,762.2 242.9,761.4 245.9,760.3 248.5,758.9 250.9,757.3 253.2,755.0 255.3,752.5 257.3,749.3 259.4,745.3 261.1,741.1 262.9,736.2 266.4,723.9 269.7,709.4 272.9,692.1 276.1,672.2 283.5,624.1 287.0,604.1 289.0,594.9 290.8,589.1 291.7,586.9 292.6,585.4 293.4,584.4 294.3,584.0 295.2,584.2 296.1,585.1 297.0,586.5 297.8,588.4 299.6,594.0 301.7,602.9 305.2,622.6 313.1,674.5 316.6,695.8 320.5,715.3 322.2,722.9 324.3,730.7 326.3,737.2 328.4,742.7 330.7,747.8 333.1,751.7 335.7,755.1 338.4,757.5 341.6,759.6 345.1,761.1 348.9,762.2 353.9,763.0 360.1,763.7 368.3,764.3 392.1,765.2 426.2,765.8 542.8,766.3 837.0,766.5" stroke="#ff00ff" stroke-width="3.3"/>
<polyline points="73.5,765.9 124.3,765.5 162.5,765.0 191.8,764.4 214.7,763.4 233.2,762.1 248.2,760.4 254.7,759.4 260.6,758.2 265.8,756.8 270.5,755.4 274.9,753.7 278.8,751.9 282.3,749.9 285.8,747.5 289.0,744.9 292.0,742.1 294.9,738.9 297.6,735.4 299.9,731.9 302.3,727.9 306.7,719.0 310.5,709.8 317.8,690.2 320.5,684.1 321.9,681.4 323.4,679.3 324.9,678.1 326.3,677.6 327.5,677.8 329.0,678.9 330.4,680.8 331.9,683.3 335.1,690.6 343.7,713.2 347.8,722.5 350.4,727.7 353.3,732.6 356.3,736.9 359.2,740.4 362.7,744.0 366.9,747.4 371.0,750.2 375.7,752.7 380.7,754.8 386.2,756.6 392.4,758.2 399.5,759.6 406.8,760.8 415.3,761.7 435.9,763.3 462.3,764.4 497.5,765.2 544.2,765.7 608.8,766.0 837.0,766.3" stroke="#ff8000" stroke-width="3.3"/>
<polyline points="73.5,766.3 195.1,766.0 265.3,765.3 289.6,764.8 309.3,764.1 325.2,763.2 338.1,762.0 348.7,760.5 357.8,758.7 365.7,756.4 372.7,753.5 378.6,750.3 384.2,746.4 389.2,742.2 398.0,734.0 401.5,731.2 405.0,729.2 406.8,728.7 408.6,728.5 410.3,728.7 412.1,729.2 413.8,730.0 415.6,731.1 419.1,733.9 428.2,742.4 433.5,746.8 439.7,751.0 446.1,754.3 450.0,755.8 454.1,757.2 462.9,759.5 473.5,761.3 486.1,762.7 501.3,763.8 520.4,764.6 544.5,765.2 575.3,765.6 667.3,766.1 837.0,766.4" stroke="#808000" stroke-width="3.3"/>
<polyline points="73.5,766.5 419.7,766.5 430.6,766.4 433.8,766.0 436.5,765.4 438.8,764.4 440.9,762.9 442.6,761.2 444.4,759.1 450.0,750.4 452.0,747.6 454.1,745.8 455.0,745.4 455.8,745.2 456.7,745.3 457.9,745.8 459.9,747.7 462.0,750.5 467.3,758.7 469.3,761.3 471.1,763.0 473.2,764.4 475.5,765.4 478.1,766.1 481.4,766.4 492.2,766.5 837.0,766.5" stroke="#000080" stroke-width="3.3"/>
<polyline points="73.5,766.5 373.3,766.5 391.5,766.1 397.7,765.7 403.0,765.0 409.7,763.4 412.7,762.4 415.6,761.1 418.5,759.6 421.2,757.9 423.8,755.9 426.5,753.5 431.5,748.3 436.7,741.5 441.4,734.6 452.9,716.5 456.1,711.9 458.8,708.6 462.0,705.2 465.2,702.6 468.5,701.1 471.4,700.6 474.3,701.0 477.6,702.5 480.8,705.1 484.0,708.5 486.7,711.8 489.9,716.4 501.3,734.4 506.3,741.7 511.3,748.1 516.3,753.4 519.0,755.8 521.6,757.8 526.9,760.9 529.8,762.2 532.8,763.3 539.2,764.9 544.2,765.6 550.4,766.1 568.3,766.5 837.0,766.5" stroke="#800080" stroke-width="3.3"/>
<polyline points="73.5,766.5 445.0,766.5 472.6,766.2 482.3,765.8 490.5,765.3 500.5,764.2 509.6,762.6 518.1,760.4 526.0,757.7 533.6,754.3 541.6,750.1 549.2,745.5 567.1,734.0 572.1,731.1 576.8,728.7 582.1,726.4 587.4,724.7 592.4,723.8 597.1,723.5 601.5,723.8 605.9,724.5 610.3,725.8 615.0,727.6 619.7,729.9 624.7,732.7 648.2,747.6 654.3,751.2 660.2,754.2 667.0,757.2 674.0,759.8 681.1,761.8 688.4,763.4 695.7,764.5 704.0,765.3 713.4,765.9 724.5,766.2 751.5,766.5 837.0,766.5" stroke="#800000" stroke-width="3.3"/>
<polyline points="73.5,766.5 522.5,766.5 543.6,766.2 550.4,765.7 556.3,765.1 560.7,764.3 564.5,763.3 568.0,762.0 571.5,760.5 574.8,758.7 578.0,756.5 581.2,753.8 584.2,751.0 587.1,747.7 590.0,744.0 595.9,735.4 601.5,726.0 614.1,703.3 617.6,697.6 620.6,693.4 624.1,689.1 627.6,686.0 629.4,684.9 631.1,684.1 632.9,683.6 634.4,683.5 635.8,683.6 637.6,684.1 639.4,684.9 641.1,686.0 644.6,689.1 648.5,693.8 651.4,698.0 654.9,703.8 667.0,725.5 671.7,733.6 676.7,741.2 681.4,747.3 685.8,752.1 690.5,756.2 695.2,759.4 700.1,761.8 705.4,763.6 711.3,764.9 718.4,765.7 726.9,766.2 747.4,766.5 837.0,766.5" stroke="#008000" stroke-width="3.3"/>
<polyline points="73.5,766.4 374.8,766.2 454.1,765.9 509.3,765.5 551.0,764.8 581.2,763.8 592.4,763.2 601.2,762.4 608.2,761.6 614.1,760.5 619.1,759.1 623.5,757.5 627.6,755.3 631.4,752.7 635.0,749.5 638.2,745.9 641.4,741.5 644.6,736.2 647.6,730.5 650.2,724.8 653.2,717.6 656.1,709.6 661.4,693.7 672.8,656.1 675.5,648.3 677.8,642.0 680.8,635.4 683.4,631.0 684.9,629.3 686.1,628.3 687.2,627.7 688.4,627.5 689.6,627.7 691.0,628.4 692.2,629.4 693.7,631.1 696.3,635.5 699.3,642.1 701.6,648.4 704.6,657.2 714.5,690.1 718.9,703.8 723.3,716.2 727.5,726.2 731.3,734.1 735.1,740.6 739.2,746.3 743.3,750.7 745.7,752.7 748.3,754.6 751.2,756.3 754.2,757.7 757.4,759.0 760.6,759.9 768.6,761.5 778.8,762.7 793.2,763.7 812.6,764.5 837.0,765.0" stroke="#008080" stroke-width="3.3"/>
</g>
<polyline class="d" points="78.0,1118.0 84.0,1121.0 834.0,1124.0 836.0,1130.0 838.0,1135.0 73.5,1108.4 74.1,1100.6 74.7,1099.9 75.3,1104.0 75.8,1107.6 76.4,1102.5 77.0,1111.7 77.6,1115.2 78.2,1101.1 78.8,1114.6 79.4,1114.0 80.0,1096.3 80.5,1097.4 81.1,1103.3 81.7,1103.1 82.3,1098.2 82.9,1100.3 83.5,1101.5 84.1,1091.9 84.7,1083.8 85.2,1090.3 85.8,1093.7 86.4,1095.4 87.0,1092.6 87.6,1075.2 88.2,1081.0 88.8,1084.7 89.4,1080.3 89.9,1085.1 90.5,1083.3 91.1,1083.4 91.7,1084.0 92.3,1073.3 92.9,1081.5 93.5,1066.1 94.1,1066.7 94.6,1066.3 95.2,1066.9 95.8,1073.3 96.4,1076.9 97.0,1062.3 97.6,1071.1 98.2,1072.6 98.8,1068.4 99.3,1058.2 99.9,1068.9 100.5,1070.5 101.1,1058.3 101.7,1063.2 102.3,1069.3 102.9,1065.6 103.5,1068.2 104.0,1067.6 104.6,1054.5 105.2,1051.6 105.8,1057.0 106.4,1047.5 107.0,1048.4 107.6,1042.7 108.2,1032.5 108.7,1036.2 109.3,1030.2 109.9,1019.9 110.5,1012.7 111.1,1003.1 111.7,996.5 112.3,988.6 112.8,976.5 113.4,963.5 114.0,948.3 114.6,944.6 115.2,933.7 115.8,921.5 116.4,911.0 117.0,912.5 117.5,903.4 118.1,881.7 118.7,882.6 119.3,870.1 119.9,865.8 120.5,844.0 121.1,841.9 121.7,826.5 122.2,820.7 122.8,816.8 123.4,815.4 124.0,808.0 124.6,797.1 125.2,804.2 125.8,797.3 126.4,793.9 126.9,785.7 127.5,791.1 128.1,799.0 128.7,802.0 129.3,802.1 129.9,800.8 130.5,813.5 131.1,812.4 131.6,825.8 132.2,826.4 132.8,828.7 133.4,844.3 134.0,850.7 134.6,858.9 135.2,863.2 135.8,873.0 136.3,893.7 136.9,900.4 137.5,919.7 138.1,931.5 138.7,930.8 139.3,944.2 139.9,942.8 140.5,964.6 141.0,971.8 141.6,985.4 142.2,994.8 142.8,1010.8 143.4,1025.0 144.0,1033.3 144.6,1047.2 145.2,1049.2 145.7,1059.7 146.3,1057.7 146.9,1056.6 147.5,1060.4 148.1,1073.8 148.7,1062.7 149.3,1075.1 149.8,1077.2 150.4,1071.5 151.0,1087.8 151.6,1085.0 152.2,1085.5 152.8,1084.0 153.4,1088.5 154.0,1089.2 154.5,1095.1 155.1,1089.8 155.7,1101.6 156.3,1087.6 156.9,1090.0 157.5,1086.2 158.1,1093.1 158.7,1088.8 159.2,1099.1 159.8,1099.6 160.4,1099.5 161.0,1092.3 161.6,1101.0 162.2,1101.6 162.8,1105.4 163.4,1097.2 163.9,1106.7 164.5,1106.9 165.1,1103.2 165.7,1103.8 166.3,1098.8 166.9,1103.3 167.5,1092.5 168.1,1093.7 168.6,1107.2 169.2,1094.8 169.8,1093.5 170.4,1087.4 171.0,1087.9 171.6,1087.7 172.2,1079.8 172.8,1077.8 173.3,1082.6 173.9,1092.6 174.5,1086.0 175.1,1100.4 175.7,1095.7 176.3,1093.6 176.9,1088.0 177.5,1090.5 178.0,1099.1 178.6,1078.2 179.2,1084.4 179.8,1089.3 180.4,1085.8 181.0,1081.3 181.6,1077.7 182.2,1082.4 182.7,1069.3 183.3,1083.7 183.9,1071.2 184.5,1065.3 185.1,1072.2 185.7,1072.1 186.3,1070.4 186.8,1063.7 187.4,1066.1 188.0,1070.9 188.6,1067.6 189.2,1070.0 189.8,1065.2 190.4,1060.4 191.0,1065.3 191.5,1069.2 192.1,1072.0 192.7,1073.5 193.3,1073.3 193.9,1073.9 194.5,1071.9 195.1,1062.9 195.7,1070.0 196.2,1067.5 196.8,1063.8 197.4,1067.6 198.0,1067.3 198.6,1070.2 199.2,1061.8 199.8,1062.2 200.4,1075.0 200.9,1070.8 201.5,1079.6 202.1,1081.4 202.7,1077.3 203.3,1084.9 203.9,1072.9 204.5,1078.0 205.1,1071.3 205.6,1077.3 206.2,1081.2 206.8,1077.1 207.4,1078.2 208.0,1073.1 208.6,1079.3 209.2,1075.6 209.8,1080.4 210.3,1077.9 210.9,1086.5 211.5,1086.7 212.1,1087.4 212.7,1090.6 213.3,1093.4 213.9,1087.6 214.5,1083.8 215.0,1083.6 215.6,1093.7 216.2,1089.1 216.8,1084.5 217.4,1086.5 218.0,1097.7 218.6,1091.8 219.2,1100.3 219.7,1098.7 220.3,1089.9 220.9,1088.6 221.5,1085.1 222.1,1092.2 222.7,1083.1 223.3,1091.9 223.8,1089.1 224.4,1098.0 225.0,1089.7 225.6,1086.9 226.2,1091.0 226.8,1081.1 227.4,1085.5 228.0,1078.2 228.5,1074.7 229.1,1074.6 229.7,1074.4 230.3,1069.5 230.9,1077.4 231.5,1074.6 232.1,1072.7 232.7,1082.0 233.2,1078.8 233.8,1086.2 234.4,1072.3 235.0,1086.4 235.6,1080.9 236.2,1087.2 236.8,1079.5 237.4,1076.5 237.9,1075.6 238.5,1080.3 239.1,1072.1 239.7,1078.2 240.3,1076.3 240.9,1091.6 241.5,1083.9 242.1,1080.1 242.6,1067.0 243.2,1077.7 243.8,1073.6 244.4,1074.4 245.0,1073.6 245.6,1069.7 246.2,1066.6 246.8,1070.3 247.3,1070.1 247.9,1069.6 248.5,1069.0 249.1,1070.3 249.7,1064.2 250.3,1071.2 250.9,1065.0 251.5,1066.8 252.0,1063.0 252.6,1064.4 253.2,1068.0 253.8,1060.9 254.4,1057.7 255.0,1056.6 255.6,1053.1 256.2,1049.8 256.7,1045.2 257.3,1053.3 257.9,1053.2 258.5,1051.9 259.1,1038.7 259.7,1042.1 260.3,1046.9 260.8,1042.8 261.4,1047.7 262.0,1048.2 262.6,1038.0 263.2,1046.5 263.8,1041.3 264.4,1038.3 265.0,1040.7 265.5,1035.5 266.1,1030.2 266.7,1040.0 267.3,1037.2 267.9,1035.3 268.5,1031.5 269.1,1022.0 269.7,1025.3 270.2,1029.9 270.8,1022.0 271.4,1018.4 272.0,1017.7 272.6,1014.5 273.2,1014.9 273.8,1014.5 274.4,1011.8 274.9,1014.0 275.5,1014.5 276.1,1014.2 276.7,1023.5 277.3,1009.2 277.9,1002.9 278.5,1005.2 279.1,995.4 279.6,1008.3 280.2,995.3 280.8,995.0 281.4,994.6 282.0,995.8 282.6,987.6 283.2,990.1 283.8,986.6 284.3,986.4 284.9,988.2 285.5,981.6 286.1,990.1 286.7,982.9 287.3,987.7 287.9,982.2 288.5,986.1 289.0,984.8 289.6,993.9 290.2,992.9 290.8,992.2 291.4,992.2 292.0,1008.1 292.6,1001.5 293.2,1003.3 293.7,1006.2 294.3,1003.7 294.9,1008.3 295.5,1003.3 296.1,1006.3 296.7,1014.2 297.3,1003.5 297.8,1012.0 298.4,1011.3 299.0,1023.6 299.6,1018.1 300.2,1023.3 300.8,1025.9 301.4,1024.5 302.0,1029.1 302.5,1029.5 303.1,1037.9 303.7,1032.3 304.3,1041.4 304.9,1039.0 305.5,1042.3 306.1,1045.9 306.7,1045.6 307.2,1045.3 307.8,1042.4 308.4,1046.5 309.0,1049.2 309.6,1053.7 310.2,1052.0 310.8,1052.8 311.4,1064.2 311.9,1060.0 312.5,1061.6 313.1,1056.8 313.7,1057.7 314.3,1058.3 314.9,1057.2 315.5,1063.6 316.1,1067.5 316.6,1066.3 317.2,1070.4 317.8,1080.1 318.4,1071.3 319.0,1079.4 319.6,1087.6 320.2,1085.0 320.8,1083.8 321.3,1087.8 321.9,1085.6 322.5,1082.6 323.1,1077.0 323.7,1075.2 324.3,1078.7 324.9,1089.3 325.5,1081.9 326.0,1083.4 326.6,1090.8 327.2,1085.0 327.8,1087.7 328.4,1079.3 329.0,1081.9 329.6,1080.8 330.2,1079.7 330.7,1075.1 331.3,1078.1 331.9,1085.7 332.5,1083.4 333.1,1088.1 333.7,1083.7 334.3,1097.3 334.8,1088.3 335.4,1090.6 336.0,1094.5 336.6,1090.4 337.2,1093.0 337.8,1098.5 338.4,1093.8 339.0,1089.6 339.5,1096.6 340.1,1088.6 340.7,1089.5 341.3,1093.4 341.9,1095.0 342.5,1085.9 343.1,1098.3 343.7,1095.8 344.2,1093.1 344.8,1092.8 345.4,1092.3 346.0,1089.5 346.6,1099.9 347.2,1102.1 347.8,1095.9 348.4,1096.5 348.9,1096.2 349.5,1100.3 350.1,1095.9 350.7,1100.9 351.3,1095.3 351.9,1100.3 352.5,1089.0 353.1,1093.5 353.6,1100.7 354.2,1101.5 354.8,1101.0 355.4,1101.6 356.0,1101.0 356.6,1107.8 357.2,1105.6 357.8,1109.5 358.3,1102.6 358.9,1104.5 359.5,1106.3 360.1,1107.6 360.7,1102.1 361.3,1104.3 361.9,1111.6 362.5,1092.4 363.0,1102.4 363.6,1100.9 364.2,1097.2 364.8,1090.6 365.4,1098.9 366.0,1096.9 366.6,1098.7 367.2,1097.7 367.7,1096.8 368.3,1101.6 368.9,1095.8 369.5,1105.3 370.1,1102.7 370.7,1100.9 371.3,1104.3 371.8,1108.8 372.4,1104.1 373.0,1109.3 373.6,1116.6 374.2,1105.3 374.8,1106.1 375.4,1101.1 376.0,1103.7 376.5,1100.4 377.1,1110.7 377.7,1100.9 378.3,1106.6 378.9,1100.9 379.5,1103.5 380.1,1098.5 380.7,1097.3 381.2,1107.2 381.8,1105.5 382.4,1101.3 383.0,1098.3 383.6,1099.0 384.2,1094.8 384.8,1100.8 385.4,1106.4 385.9,1096.6 386.5,1110.7 387.1,1101.7 387.7,1108.3 388.3,1105.3 388.9,1099.4 389.5,1099.4 390.1,1111.9 390.6,1110.2 391.2,1099.7 391.8,1112.1 392.4,1101.8 393.0,1117.1 393.6,1100.9 394.2,1107.3 394.8,1103.2 395.3,1098.9 395.9,1105.0 396.5,1097.8 397.1,1096.9 397.7,1101.0 398.3,1095.0 398.9,1095.6 399.5,1100.2 400.0,1102.4 400.6,1104.2 401.2,1104.4 401.8,1096.6 402.4,1104.3 403.0,1099.1 403.6,1098.0 404.1,1105.0 404.7,1107.7 405.3,1103.1 405.9,1101.8 406.5,1105.7 407.1,1102.9 407.7,1095.5 408.3,1099.3 408.8,1096.5 409.4,1094.7 410.0,1093.6 410.6,1095.7 411.2,1085.3 411.8,1089.6 412.4,1092.8 413.0,1079.1 413.5,1096.1 414.1,1091.6 414.7,1103.1 415.3,1094.0 415.9,1086.1 416.5,1090.6 417.1,1089.3 417.7,1093.4 418.2,1085.2 418.8,1092.8 419.4,1089.5 420.0,1088.1 420.6,1089.9 421.2,1087.7 421.8,1096.3 422.4,1089.7 422.9,1093.4 423.5,1088.8 424.1,1089.6 424.7,1099.7 425.3,1089.9 425.9,1086.6 426.5,1086.4 427.1,1088.1 427.6,1087.2 428.2,1088.7 428.8,1097.2 429.4,1088.9 430.0,1090.0 430.6,1094.5 431.2,1080.8 431.8,1080.7 432.3,1076.6 432.9,1090.1 433.5,1087.0 434.1,1076.7 434.7,1088.8 435.3,1085.4 435.9,1066.6 436.5,1071.6 437.0,1079.7 437.6,1070.8 438.2,1074.4 438.8,1078.8 439.4,1078.2 440.0,1074.7 440.6,1080.4 441.1,1083.5 441.7,1076.6 442.3,1091.2 442.9,1082.7 443.5,1081.7 444.1,1073.7 444.7,1073.5 445.3,1072.5 445.8,1079.3 446.4,1069.7 447.0,1079.4 447.6,1077.6 448.2,1070.2 448.8,1072.7 449.4,1080.3 450.0,1070.2 450.5,1064.8 451.1,1072.8 451.7,1077.7 452.3,1082.4 452.9,1081.6 453.5,1091.9 454.1,1086.7 454.7,1084.6 455.2,1088.9 455.8,1088.4 456.4,1082.2 457.0,1082.5 457.6,1079.1 458.2,1075.2 458.8,1072.8 459.4,1067.2 459.9,1071.2 460.5,1067.0 461.1,1073.6 461.7,1069.7 462.3,1062.9 462.9,1066.5 463.5,1065.1 464.1,1060.1 464.6,1063.9 465.2,1068.0 465.8,1074.7 466.4,1068.2 467.0,1070.6 467.6,1074.2 468.2,1073.2 468.8,1069.1 469.3,1071.7 469.9,1068.7 470.5,1069.2 471.1,1072.3 471.7,1074.6 472.3,1079.8 472.9,1079.5 473.5,1081.2 474.0,1069.9 474.6,1075.1 475.2,1076.1 475.8,1071.1 476.4,1066.7 477.0,1080.2 477.6,1089.3 478.1,1077.6 478.7,1085.7 479.3,1096.6 479.9,1090.5 480.5,1092.4 481.1,1089.7 481.7,1094.5 482.3,1098.5 482.8,1098.2 483.4,1091.7 484.0,1096.8 484.6,1086.6 485.2,1089.2 485.8,1091.8 486.4,1090.7 487.0,1092.8 487.5,1086.6 488.1,1078.0 488.7,1093.7 489.3,1099.5 489.9,1095.3 490.5,1094.5 491.1,1095.2 491.7,1098.2 492.2,1090.8 492.8,1096.1 493.4,1092.3 494.0,1086.1 494.6,1093.1 495.2,1095.2 495.8,1101.7 496.4,1094.7 496.9,1102.8 497.5,1094.1 498.1,1095.7 498.7,1099.8 499.3,1095.2 499.9,1099.3 500.5,1095.1 501.1,1094.7 501.6,1096.1 502.2,1101.4 502.8,1098.4 503.4,1096.6 504.0,1106.3 504.6,1099.2 505.2,1102.8 505.8,1100.5 506.3,1102.0 506.9,1097.3 507.5,1093.9 508.1,1097.9 508.7,1098.5 509.3,1100.1 509.9,1100.3 510.5,1100.7 511.0,1094.7 511.6,1103.7 512.2,1103.6 512.8,1098.5 513.4,1099.3 514.0,1097.9 514.6,1103.2 515.1,1090.4 515.7,1096.6 516.3,1101.3 516.9,1092.2 517.5,1096.7 518.1,1106.9 518.7,1093.3 519.3,1098.0 519.8,1093.2 520.4,1094.9 521.0,1090.9 521.6,1094.1 522.2,1086.9 522.8,1101.0 523.4,1096.5 524.0,1097.8 524.5,1096.2 525.1,1100.6 525.7,1099.9 526.3,1103.5 526.9,1098.8 527.5,1097.5 528.1,1103.6 528.7,1101.2 529.2,1103.0 529.8,1099.6 530.4,1088.1 531.0,1097.7 531.6,1099.2 532.2,1096.8 532.8,1099.8 533.4,1099.1 533.9,1095.2 534.5,1095.3 535.1,1092.0 535.7,1097.2 536.3,1084.9 536.9,1084.1 537.5,1094.4 538.1,1083.2 538.6,1092.2 539.2,1090.4 539.8,1095.1 540.4,1085.2 541.0,1084.9 541.6,1088.8 542.2,1088.9 542.8,1086.2 543.3,1085.4 543.9,1088.8 544.5,1091.5 545.1,1078.3 545.7,1091.1 546.3,1089.3 546.9,1085.4 547.5,1083.6 548.0,1085.2 548.6,1078.8 549.2,1086.1 549.8,1083.2 550.4,1079.8 551.0,1077.9 551.6,1067.8 552.1,1074.5 552.7,1068.4 553.3,1068.8 553.9,1069.3 554.5,1068.9 555.1,1070.3 555.7,1067.5 556.3,1067.3 556.8,1063.1 557.4,1065.2 558.0,1061.6 558.6,1069.6 559.2,1067.2 559.8,1067.2 560.4,1068.8 561.0,1063.1 561.5,1069.1 562.1,1056.5 562.7,1066.3 563.3,1062.9 563.9,1054.9 564.5,1056.4 565.1,1057.6 565.7,1050.4 566.2,1053.9 566.8,1057.6 567.4,1056.5 568.0,1053.8 568.6,1049.2 569.2,1058.0 569.8,1056.8 570.4,1058.2 570.9,1052.6 571.5,1041.6 572.1,1041.0 572.7,1037.7 573.3,1045.1 573.9,1039.8 574.5,1039.5 575.1,1035.0 575.6,1029.0 576.2,1036.4 576.8,1027.8 577.4,1026.5 578.0,1031.2 578.6,1037.4 579.2,1041.3 579.8,1036.9 580.3,1035.6 580.9,1036.1 581.5,1036.8 582.1,1037.4 582.7,1028.2 583.3,1029.2 583.9,1045.3 584.5,1026.7 585.0,1022.5 585.6,1028.9 586.2,1028.5 586.8,1026.6 587.4,1037.2 588.0,1034.9 588.6,1027.1 589.1,1042.4 589.7,1030.4 590.3,1032.9 590.9,1028.1 591.5,1026.6 592.1,1031.2 592.7,1034.3 593.3,1029.0 593.8,1024.8 594.4,1022.1 595.0,1028.2 595.6,1015.6 596.2,1020.9 596.8,1018.3 597.4,1021.3 598.0,1020.8 598.5,1018.2 599.1,1015.9 599.7,1022.0 600.3,1029.8 600.9,1021.9 601.5,1019.6 602.1,1016.3 602.7,1022.1 603.2,1021.0 603.8,1027.4 604.4,1016.5 605.0,1023.7 605.6,1012.2 606.2,1017.7 606.8,1019.2 607.4,1014.4 607.9,1009.7 608.5,1019.3 609.1,1020.9 609.7,1025.6 610.3,1025.6 610.9,1028.8 611.5,1016.7 612.1,1026.7 612.6,1020.1 613.2,1020.1 613.8,1006.9 614.4,1017.6 615.0,1016.9 615.6,1018.7 616.2,1031.6 616.8,1018.7 617.3,1020.8 617.9,1023.9 618.5,1024.0 619.1,1017.5 619.7,1017.4 620.3,1022.9 620.9,1018.4 621.5,1027.2 622.0,1023.3 622.6,1020.3 623.2,1030.5 623.8,1030.5 624.4,1031.3 625.0,1029.0 625.6,1030.5 626.1,1025.9 626.7,1018.8 627.3,1023.8 627.9,1023.0 628.5,1021.3 629.1,1023.6 629.7,1029.1 630.3,1024.5 630.8,1022.2 631.4,1022.0 632.0,1014.1 632.6,1026.0 633.2,1017.0 633.8,1021.1 634.4,1019.6 635.0,1020.0 635.5,1024.7 636.1,1020.0 636.7,1027.6 637.3,1026.2 637.9,1029.6 638.5,1022.0 639.1,1031.6 639.7,1029.7 640.2,1029.8 640.8,1023.0 641.4,1021.4 642.0,1028.1 642.6,1027.2 643.2,1032.1 643.8,1027.2 644.4,1026.5 644.9,1036.2 645.5,1036.1 646.1,1036.3 646.7,1037.6 647.3,1037.3 647.9,1036.3 648.5,1032.8 649.1,1036.5 649.6,1033.7 650.2,1031.2 650.8,1026.1 651.4,1030.5 652.0,1035.6 652.6,1037.4 653.2,1029.4 653.8,1040.5 654.3,1034.7 654.9,1042.4 655.5,1037.4 656.1,1033.5 656.7,1041.3 657.3,1029.5 657.9,1036.1 658.5,1033.7 659.0,1035.8 659.6,1037.2 660.2,1037.7 660.8,1043.6 661.4,1033.4 662.0,1044.9 662.6,1047.8 663.1,1035.7 663.7,1035.4 664.3,1038.8 664.9,1036.6 665.5,1045.6 666.1,1044.3 666.7,1039.4 667.3,1040.3 667.8,1049.9 668.4,1040.0 669.0,1038.9 669.6,1049.9 670.2,1046.6 670.8,1039.5 671.4,1044.3 672.0,1035.4 672.5,1047.8 673.1,1057.4 673.7,1043.7 674.3,1049.0 674.9,1045.5 675.5,1041.8 676.1,1045.2 676.7,1043.7 677.2,1040.4 677.8,1046.8 678.4,1048.7 679.0,1050.2 679.6,1049.8 680.2,1049.4 680.8,1048.4 681.4,1046.1 681.9,1041.8 682.5,1048.1 683.1,1046.4 683.7,1042.2 684.3,1047.7 684.9,1049.9 685.5,1053.1 686.1,1042.6 686.6,1052.2 687.2,1044.7 687.8,1050.0 688.4,1056.2 689.0,1052.4 689.6,1052.6 690.2,1051.5 690.8,1062.1 691.3,1055.3 691.9,1061.5 692.5,1062.4 693.1,1066.8 693.7,1073.2 694.3,1070.8 694.9,1078.3 695.5,1076.9 696.0,1068.1 696.6,1062.3 697.2,1065.6 697.8,1064.8 698.4,1072.7 699.0,1068.0 699.6,1073.0 700.1,1066.4 700.7,1077.3 701.3,1083.0 701.9,1076.5 702.5,1071.9 703.1,1073.8 703.7,1073.9 704.3,1072.0 704.8,1070.8 705.4,1071.9 706.0,1067.7 706.6,1071.4 707.2,1072.5 707.8,1074.2 708.4,1069.8 709.0,1080.3 709.5,1084.0 710.1,1079.0 710.7,1092.8 711.3,1085.9 711.9,1086.5 712.5,1088.7 713.1,1086.4 713.7,1090.1 714.2,1090.7 714.8,1077.3 715.4,1087.0 716.0,1091.4 716.6,1090.4 717.2,1092.1 717.8,1090.2 718.4,1088.7 718.9,1084.9 719.5,1097.5 720.1,1090.6 720.7,1089.0 721.3,1088.7 721.9,1087.1 722.5,1088.9 723.1,1095.3 723.6,1094.9 724.2,1090.5 724.8,1098.0 725.4,1098.1 726.0,1100.2 726.6,1098.9 727.2,1104.6 727.8,1092.3 728.3,1099.4 728.9,1098.3 729.5,1093.2 730.1,1088.9 730.7,1095.6 731.3,1089.3 731.9,1102.0 732.5,1100.4 733.0,1088.6 733.6,1100.4 734.2,1099.0 734.8,1097.7 735.4,1097.4 736.0,1107.7 736.6,1097.0 737.1,1097.8 737.7,1106.2 738.3,1102.3 738.9,1096.9 739.5,1117.5 740.1,1107.7 740.7,1102.7 741.3,1118.2 741.8,1108.5 742.4,1108.3 743.0,1106.5 743.6,1112.5 744.2,1112.3 744.8,1112.2 745.4,1116.9 746.0,1110.6 746.5,1106.6 747.1,1104.3 747.7,1111.3 748.3,1108.8 748.9,1105.1 749.5,1111.6 750.1,1109.7 750.7,1104.3 751.2,1100.8 751.8,1104.8 752.4,1102.6 753.0,1107.3 753.6,1109.5 754.2,1110.5 754.8,1098.6 755.4,1105.4 755.9,1109.1 756.5,1109.6 757.1,1108.8 757.7,1106.7 758.3,1109.3 758.9,1114.0 759.5,1108.7 760.1,1107.2 760.6,1113.1 761.2,1113.9 761.8,1105.5 762.4,1106.8 763.0,1102.4 763.6,1106.2 764.2,1106.7 764.8,1102.6 765.3,1098.9 765.9,1098.8 766.5,1103.9 767.1,1108.5 767.7,1106.2 768.3,1106.3 768.9,1112.5 769.5,1106.3 770.0,1107.0 770.6,1104.5 771.2,1114.1 771.8,1112.0 772.4,1106.2 773.0,1106.7 773.6,1100.9 774.1,1103.3 774.7,1108.4 775.3,1112.1 775.9,1100.2 776.5,1118.0 777.1,1115.4 777.7,1107.1 778.3,1112.1 778.8,1107.5 779.4,1105.5 780.0,1105.5 780.6,1105.8 781.2,1109.4 781.8,1110.8 782.4,1115.2 783.0,1111.4 783.5,1109.6 784.1,1114.4 784.7,1116.3 785.3,1114.6 785.9,1119.5 786.5,1112.7 787.1,1108.1 787.7,1115.9 788.2,1116.0 788.8,1113.3 789.4,1113.9 790.0,1109.1 790.6,1112.5 791.2,1113.6 791.8,1111.4 792.4,1105.9 792.9,1111.6 793.5,1106.2 794.1,1109.9 794.7,1107.8 795.3,1109.1 795.9,1102.5 796.5,1107.7 797.1,1109.7 797.6,1110.3 798.2,1115.5 798.8,1107.1 799.4,1115.1 800.0,1116.0 800.6,1111.8 801.2,1107.4 801.8,1111.5 802.3,1112.5 802.9,1113.9 803.5,1118.7 804.1,1117.4 804.7,1108.5 805.3,1118.8 805.9,1106.6 806.5,1110.7 807.0,1106.4 807.6,1115.4 808.2,1111.5 808.8,1117.8 809.4,1109.6 810.0,1112.7 810.6,1118.0 811.1,1110.1 811.7,1116.2 812.3,1112.2 812.9,1110.8 813.5,1104.1 814.1,1109.4 814.7,1116.7 815.3,1109.2 815.8,1111.9 816.4,1116.6 817.0,1108.9 817.6,1113.3 818.2,1114.6 818.8,1112.7 819.4,1118.4 820.0,1122.2 820.5,1119.4 821.1,1117.1 821.7,1117.9 822.3,1109.8 822.9,1118.2 823.5,1112.1 824.1,1120.8 824.7,1113.1 825.2,1120.4 825.8,1113.4 826.4,1112.8 827.0,1107.3 827.6,1115.4 828.2,1115.5 828.8,1119.2 829.4,1112.3 829.9,1110.4 830.5,1122.4 831.1,1108.7 831.7,1115.6 832.3,1123.5 832.9,1118.2 833.5,1112.0 834.1,1115.5 834.6,1121.1 835.2,1113.4 835.8,1111.2 836.4,1116.4 837.0,1108.2"/>
<g fill="none" stroke-linejoin="round" stroke-linecap="round">
<polyline points="73.5,1108.8 74.7,1108.7 75.0,1108.5 77.6,1105.8 80.3,1102.0 83.5,1096.3 86.4,1090.3 91.7,1075.1 92.9,1072.2 94.1,1069.9 94.9,1068.7 96.1,1067.7 99.6,1066.1 100.8,1065.4 102.0,1064.3 102.9,1063.0 103.7,1060.8 104.6,1057.7 106.4,1049.1 109.0,1030.4 110.2,1017.4 118.7,876.0 121.7,833.4 123.1,817.3 124.6,805.7 125.8,800.2 126.4,799.0 126.9,798.4 127.5,798.9 128.1,800.1 129.0,803.9 129.6,807.5 131.1,819.9 132.8,840.7 135.2,875.6 141.9,987.3 143.7,1028.8 146.6,1059.5 148.7,1075.3 149.8,1081.8 150.7,1085.2 151.6,1087.4 156.9,1096.5 158.7,1098.8 160.1,1099.8 161.0,1100.0 161.9,1099.7 164.5,1097.3 177.2,1083.1 186.3,1071.5 189.2,1068.8 191.5,1067.6 193.0,1067.4 194.2,1067.6 195.4,1068.1 196.8,1069.1 199.2,1071.4 204.2,1077.2 207.4,1080.4 213.3,1087.1 215.9,1089.2 217.1,1089.8 218.3,1090.0 219.7,1089.8 221.5,1088.9 223.3,1087.6 228.0,1083.1 230.0,1081.5 233.5,1079.4 242.6,1074.7 245.6,1072.8 247.9,1070.9 250.0,1068.3 252.3,1064.1 257.6,1052.5 261.4,1042.7 267.0,1032.5 268.8,1029.0 271.1,1023.0 276.1,1008.5 282.0,992.6 283.2,990.0 284.3,988.1 285.2,987.2 286.1,987.0 287.0,987.5 287.9,988.6 289.0,990.9 290.2,993.9 296.1,1011.2 302.8,1032.9 307.5,1046.0 311.1,1055.2 313.4,1060.6 315.5,1064.8 320.5,1074.1 324.0,1079.8 326.0,1082.5 328.1,1084.5 330.7,1086.4 334.3,1088.4 348.1,1095.6 352.2,1097.6 360.1,1100.6 365.7,1102.2 375.1,1103.6 383.3,1104.1 390.9,1103.6 397.1,1102.7 399.5,1102.1 404.4,1100.3 412.1,1096.6 425.0,1088.7 432.0,1084.9 437.3,1082.4 445.0,1079.2 450.3,1077.3 455.0,1076.0 458.8,1075.4 462.0,1075.6 465.5,1076.4 469.3,1077.7 474.0,1079.9 476.1,1081.6 480.5,1086.8 482.6,1088.6 491.4,1093.4 495.2,1095.2 498.7,1096.5 504.6,1098.1 507.5,1098.5 510.2,1098.7 512.8,1098.6 515.7,1098.3 521.3,1096.8 527.2,1094.4 533.6,1090.9 538.6,1087.5 543.0,1083.5 546.3,1079.9 549.8,1075.6 559.8,1062.5 567.4,1053.0 578.6,1038.4 582.4,1034.0 585.9,1030.6 593.8,1024.7 597.4,1022.5 600.6,1020.8 603.5,1019.7 606.5,1018.9 609.1,1018.5 612.6,1018.5 617.3,1018.9 622.3,1019.8 627.3,1021.2 632.3,1023.0 636.7,1025.4 645.5,1031.1 649.6,1033.4 655.5,1036.1 670.8,1042.4 675.5,1044.8 679.3,1047.0 682.8,1049.6 686.3,1052.5 694.9,1060.7 697.8,1064.2 704.6,1072.9 710.7,1080.3 714.8,1085.0 718.1,1088.3 723.3,1092.6 729.2,1096.9 734.2,1100.0 738.9,1102.3 745.7,1104.9 750.4,1106.2 761.5,1108.1 772.7,1109.7 790.9,1111.8 801.8,1112.8 822.6,1114.2 837.0,1114.8" stroke="#000" stroke-width="5.8"/>
<polyline points="73.5,1116.3 78.8,1116.0 82.0,1115.5 84.4,1114.3 86.4,1112.4 88.2,1109.7 89.9,1105.8 94.6,1092.1 96.1,1088.5 97.6,1086.1 98.2,1085.7 98.8,1085.5 99.3,1085.7 100.2,1086.5 101.7,1089.1 107.3,1105.1 109.0,1109.1 110.5,1111.6 112.6,1113.9 114.6,1115.2 117.3,1115.9 120.8,1116.2 138.7,1116.4 186.8,1116.5 837.0,1116.5" stroke="#000000" stroke-width="3.3"/>
<polyline points="73.5,1115.6 82.6,1115.2 87.6,1114.5 91.1,1113.2 92.6,1112.3 94.1,1111.1 95.5,1109.3 96.7,1107.4 97.9,1105.0 99.0,1101.9 101.1,1094.7 103.2,1084.4 104.9,1072.7 106.7,1057.7 108.4,1039.3 110.2,1017.4 113.1,973.9 119.3,870.7 122.0,833.9 123.4,818.6 124.6,809.8 125.8,804.3 126.4,803.0 126.9,802.5 127.5,803.0 128.1,804.3 128.7,806.6 129.6,811.7 130.8,821.3 132.2,837.4 134.9,875.3 140.2,964.4 142.8,1005.2 145.4,1039.3 148.1,1065.6 149.6,1076.9 151.0,1086.1 152.8,1094.7 154.5,1101.1 156.3,1105.6 158.4,1109.3 160.7,1111.9 163.4,1113.5 165.7,1114.3 168.3,1114.9 177.2,1115.5 198.0,1116.0 231.8,1116.3 366.3,1116.5 837.0,1116.5" stroke="#ff0000" stroke-width="3.3"/>
<polyline points="73.5,1116.5 150.1,1116.2 159.0,1115.7 161.9,1115.3 164.5,1114.6 167.2,1113.4 169.5,1111.9 171.6,1110.1 173.6,1107.7 175.7,1104.7 178.0,1100.7 184.8,1086.9 187.4,1082.1 188.9,1080.0 190.1,1078.8 191.5,1077.8 192.7,1077.5 193.9,1077.7 195.4,1078.6 196.5,1079.7 198.0,1081.7 200.7,1086.4 205.9,1097.4 208.6,1102.4 211.2,1106.6 213.9,1109.8 216.8,1112.4 218.6,1113.5 220.3,1114.3 224.1,1115.3 229.4,1115.9 248.2,1116.3 303.7,1116.4 837.0,1116.5" stroke="#00ee00" stroke-width="3.3"/>
<polyline points="73.5,1116.5 202.4,1116.5 212.7,1116.3 217.4,1115.5 221.2,1114.1 224.7,1111.8 232.4,1105.1 234.7,1103.9 236.8,1103.5 238.8,1103.9 240.9,1104.9 242.9,1106.5 249.1,1112.0 251.2,1113.4 253.2,1114.5 255.6,1115.4 257.9,1115.9 260.8,1116.3 264.7,1116.4 837.0,1116.5" stroke="#0000ff" stroke-width="3.3"/>
<polyline points="73.5,1114.7 109.3,1113.9 137.8,1112.9 160.7,1111.5 179.2,1109.7 187.4,1108.6 194.8,1107.3 201.5,1105.9 207.7,1104.3 213.3,1102.6 218.6,1100.6 223.6,1098.3 228.0,1095.9 231.8,1093.4 235.3,1090.8 238.8,1087.7 242.1,1084.3 245.0,1080.9 247.9,1076.9 250.6,1072.8 253.2,1068.2 255.9,1063.0 258.2,1057.9 262.9,1045.9 267.0,1033.7 275.2,1007.1 278.8,997.2 280.5,993.4 282.3,990.5 284.0,988.7 284.9,988.2 285.8,988.1 287.3,988.6 289.0,990.2 290.5,992.5 292.3,996.1 295.8,1005.6 305.2,1035.9 308.1,1044.6 310.8,1051.7 314.0,1059.5 317.2,1066.2 320.8,1072.5 324.3,1077.9 328.4,1083.2 332.8,1087.8 337.5,1091.8 342.8,1095.4 348.7,1098.7 354.8,1101.4 361.9,1103.8 369.8,1105.9 378.3,1107.6 387.7,1109.1 398.3,1110.3 410.3,1111.4 424.1,1112.4 439.7,1113.1 478.1,1114.3 528.7,1115.1 598.0,1115.7 837.0,1116.2" stroke="#00ffff" stroke-width="3.3"/>
<polyline points="73.5,1116.5 352.8,1116.5 372.1,1116.2 384.5,1115.5 391.5,1114.5 398.0,1113.0 403.9,1111.1 409.4,1108.5 414.7,1105.5 420.3,1101.6 425.6,1097.3 437.9,1086.9 444.4,1082.2 447.9,1080.2 451.4,1078.7 455.0,1077.8 458.2,1077.5 461.4,1077.8 464.9,1078.6 468.5,1080.1 472.3,1082.2 478.7,1087.0 491.4,1097.6 496.6,1101.8 502.2,1105.7 507.5,1108.7 513.1,1111.2 519.0,1113.1 525.1,1114.5 532.2,1115.5 544.5,1116.2 563.6,1116.5 837.0,1116.5" stroke="#ff00ff" stroke-width="3.3"/>
<polyline points="73.5,1116.5 445.3,1116.4 462.3,1116.2 474.6,1115.7 484.9,1114.8 493.7,1113.6 499.3,1112.4 504.3,1111.1 509.0,1109.5 513.7,1107.6 518.1,1105.4 522.5,1102.9 526.6,1100.1 530.7,1097.0 534.8,1093.4 538.9,1089.5 543.0,1085.2 547.5,1080.3 555.7,1070.1 575.1,1044.5 580.3,1038.2 585.3,1032.9 588.3,1030.1 591.2,1027.7 593.8,1025.9 596.5,1024.3 599.1,1023.1 601.8,1022.2 604.4,1021.7 607.1,1021.5 609.4,1021.6 611.8,1022.1 614.1,1022.8 616.8,1023.9 619.1,1025.2 621.7,1026.9 626.7,1031.0 631.7,1036.0 637.0,1042.1 642.9,1049.5 661.7,1074.3 668.1,1082.1 674.0,1088.5 681.1,1095.1 687.8,1100.4 694.9,1104.8 698.7,1106.8 702.5,1108.5 710.1,1111.2 718.6,1113.3 728.0,1114.7 739.2,1115.7 751.0,1116.2 766.2,1116.4 837.0,1116.5" stroke="#ff8000" stroke-width="3.3"/>
<polyline points="73.5,1116.4 340.1,1116.2 474.0,1115.8 517.8,1115.4 550.7,1114.9 575.3,1114.2 593.3,1113.2 605.9,1111.9 616.2,1110.1 620.9,1109.0 625.3,1107.7 629.7,1106.1 633.8,1104.3 641.1,1100.4 648.8,1095.4 655.8,1089.8 669.3,1078.3 675.2,1074.0 678.4,1072.1 681.4,1070.9 684.3,1070.1 686.9,1069.9 689.3,1070.1 691.9,1070.7 694.6,1071.7 697.5,1073.3 703.4,1077.5 719.8,1091.4 724.5,1095.0 728.9,1098.1 734.2,1101.4 739.5,1104.1 744.8,1106.3 750.4,1108.3 756.5,1109.9 763.3,1111.2 770.9,1112.3 779.4,1113.1 789.7,1113.7 802.3,1114.3 837.0,1115.2" stroke="#808000" stroke-width="3.3"/>
</g>
<g font-family="Liberation Serif" font-size="46" fill="#000" stroke="#fff" stroke-width="0.5">
<text x="152.2" y="322.2" transform="rotate(-90 152.2 322.2)">251</text>
<text x="212.8" y="140.9" transform="rotate(-90 212.8 140.9)">301</text>
<text x="259.6" y="269.5" transform="rotate(-90 259.6 269.5)">321</text>
<text x="312.2" y="97.6" transform="rotate(-90 312.2 97.6)">386</text>
<text x="374.6" y="243.6" transform="rotate(-90 374.6 243.6)">410</text>
<text x="427.7" y="302.9" transform="rotate(-90 427.7 302.9)">486</text>
<text x="491.2" y="297.4" transform="rotate(-90 491.2 297.4)">537</text>
<text x="571.5" y="359.6" transform="rotate(-90 571.5 359.6)">608</text>
<text x="644.2" y="219.6" transform="rotate(-90 644.2 219.6)">678</text>
<text x="703.0" y="88.7" transform="rotate(-90 703.0 88.7)">720</text>
<text x="118.8" y="514.4" transform="rotate(-90 118.8 514.4)">251</text>
<text x="216.1" y="580.9" transform="rotate(-90 216.1 580.9)">301</text>
<text x="251.3" y="649.1" transform="rotate(-90 251.3 649.1)">327</text>
<text x="314.6" y="499.7" transform="rotate(-90 314.6 499.7)">388</text>
<text x="359.1" y="590.2" transform="rotate(-90 359.1 590.2)">415</text>
<text x="429.1" y="683.4" transform="rotate(-90 429.1 683.4)">486</text>
<text x="493.1" y="644.2" transform="rotate(-90 493.1 644.2)">538</text>
<text x="615.1" y="623.7" transform="rotate(-90 615.1 623.7)">646</text>
<text x="655.8" y="597.0" transform="rotate(-90 655.8 597.0)">677</text>
<text x="707.2" y="580.9" transform="rotate(-90 707.2 580.9)">722</text>
<text x="189.5" y="855.7" transform="rotate(-90 189.5 855.7)">246</text>
<text x="213.4" y="1047.8" transform="rotate(-90 213.4 1047.8)">303</text>
<text x="256.7" y="1043.4" transform="rotate(-90 256.7 1043.4)">339</text>
<text x="306.4" y="964.5" transform="rotate(-90 306.4 964.5)">381</text>
<text x="478.8" y="1055.1" transform="rotate(-90 478.8 1055.1)">528</text>
<text x="630.8" y="989.1" transform="rotate(-90 630.8 989.1)">654</text>
<text x="712.0" y="1021.2" transform="rotate(-90 712.0 1021.2)">723</text>
<text x="241.4" y="824.0">375</text>
<text x="399.1" y="827.5">525</text>
<text x="774.1" y="375.0">(a)</text>
<text x="773.5" y="694.1">(b)</text>
<text x="773.8" y="1076.9">(c)</text>
</g>
<line x1="238" y1="270.5" x2="221.9" y2="304.4" stroke="#00ee00" stroke-width="2.6"/><polygon points="215.5,318 216.9,299.9 220.6,307.2 228.7,305.4" fill="#00ee00"/>
<line x1="356" y1="251.5" x2="331.6" y2="283.6" stroke="#00ffff" stroke-width="2.6"/><polygon points="322.5,295.5 327.6,278.0 329.7,286.0 338.0,285.9" fill="#00ffff"/>
<line x1="283.7" y1="780.5" x2="293.7" y2="762.4" stroke="#00ffff" stroke-width="2.6"/><polygon points="300,751 298.0,767.0 294.9,760.2 287.5,761.2" fill="#00ffff"/>
<line x1="448.5" y1="784" x2="455.9" y2="766.9" stroke="#000080" stroke-width="2.6"/><polygon points="461,755 460.6,771.1 456.8,764.6 449.6,766.4" fill="#000080"/>
<rect x="73.5" y="4.5" width="763.5" height="1145" fill="none" stroke="#000" stroke-width="2.2"/>
<line x1="73.5" y1="1149" x2="73.5" y2="1164.5" stroke="#000" stroke-width="2.4"/>
<line x1="308.4" y1="1149" x2="308.4" y2="1164.5" stroke="#000" stroke-width="2.4"/>
<line x1="543.3" y1="1149" x2="543.3" y2="1164.5" stroke="#000" stroke-width="2.4"/>
<line x1="778.3" y1="1149" x2="778.3" y2="1164.5" stroke="#000" stroke-width="2.4"/>
<line x1="191.0" y1="1149" x2="191.0" y2="1157" stroke="#000" stroke-width="2.4"/>
<line x1="425.9" y1="1149" x2="425.9" y2="1157" stroke="#000" stroke-width="2.4"/>
<line x1="660.8" y1="1149" x2="660.8" y2="1157" stroke="#000" stroke-width="2.4"/>
<text x="73.5" y="1209" text-anchor="middle" font-family="Liberation Sans" font-size="46">200</text>
<text x="308.4" y="1209" text-anchor="middle" font-family="Liberation Sans" font-size="46">400</text>
<text x="543.3" y="1209" text-anchor="middle" font-family="Liberation Sans" font-size="46">600</text>
<text x="778.3" y="1209" text-anchor="middle" font-family="Liberation Sans" font-size="46">800</text>
<text x="258" y="1266" font-family="Liberation Sans" font-size="45.5">Wavenumber (cm<tspan dx="0.5" dy="-24" font-size="27">-1</tspan><tspan dx="2.5" dy="24">)</tspan></text>
<text x="35.6" y="736.4" transform="rotate(-90 35.6 736.4)" font-family="Liberation Sans" font-size="46">Intensity (a.u.)</text>
</svg></body></html>
